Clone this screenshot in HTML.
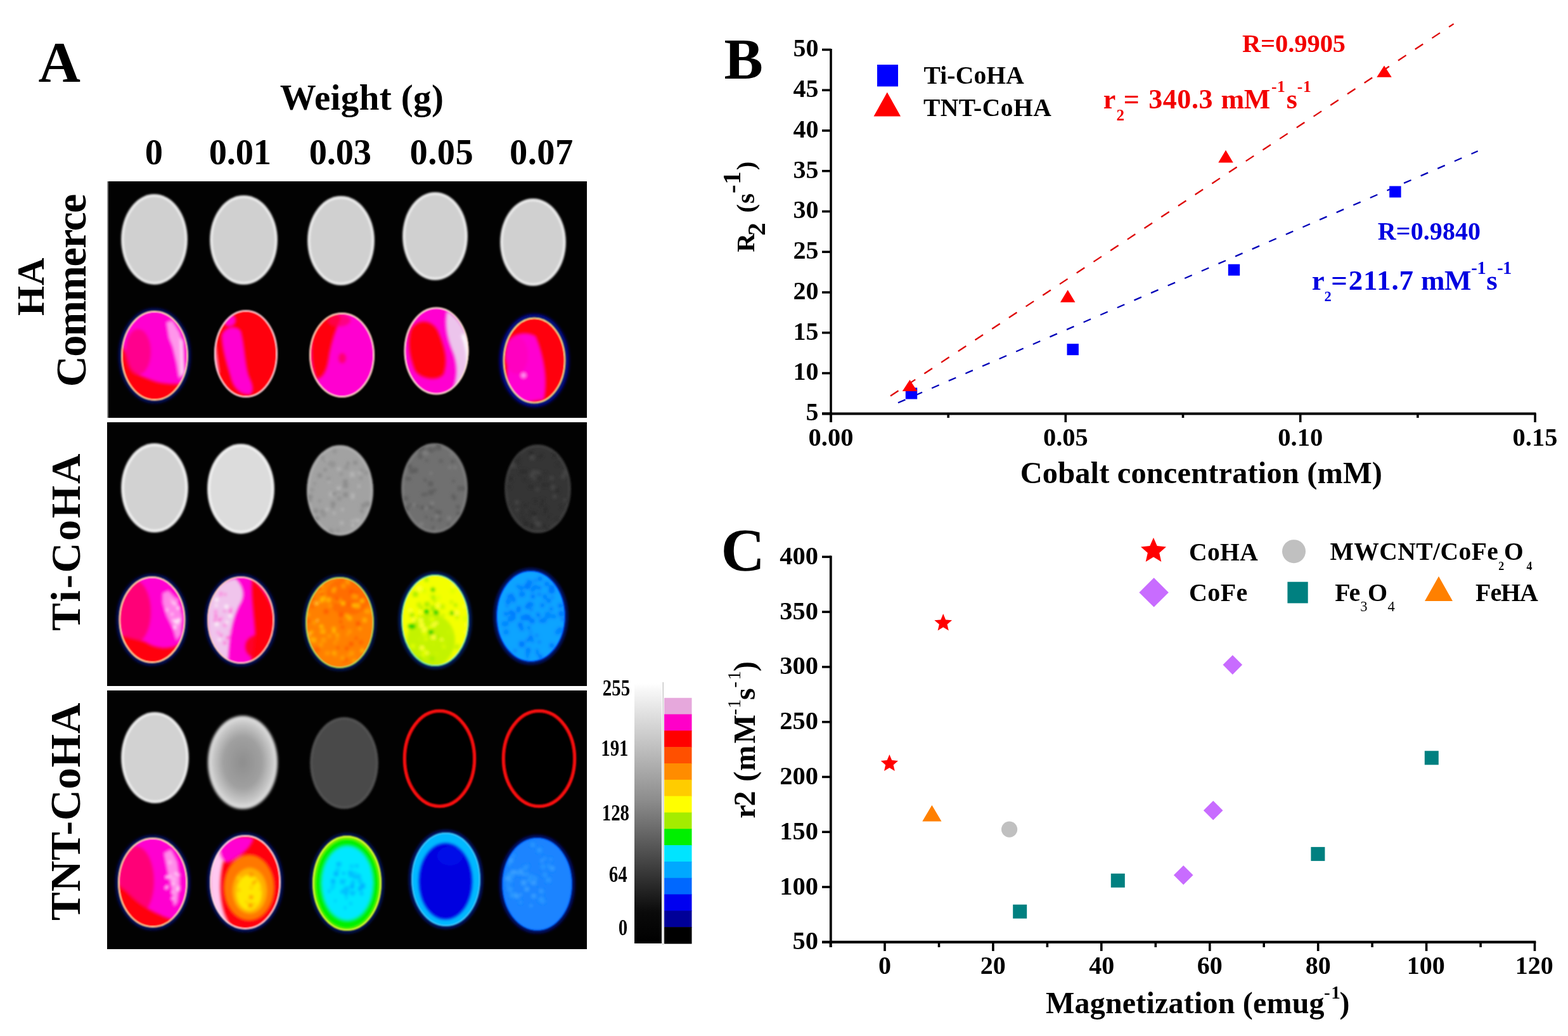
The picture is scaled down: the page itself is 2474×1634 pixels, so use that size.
<!DOCTYPE html>
<html><head><meta charset="utf-8"><title>Figure</title><style>html,body{margin:0;padding:0;background:#fff;overflow:hidden}svg{display:block}text{font-family:"Liberation Serif",serif;font-weight:bold}</style></head><body>
<svg width="2474" height="1634" viewBox="0 0 2474 1634">
<defs><filter id="blur2" x="-20%" y="-20%" width="140%" height="140%"><feGaussianBlur stdDeviation="2"/></filter>
<filter id="blur1" x="-20%" y="-20%" width="140%" height="140%"><feGaussianBlur stdDeviation="1.1"/></filter>
<filter id="blurG" x="-20%" y="-20%" width="140%" height="140%"><feGaussianBlur stdDeviation="1.6"/></filter>
<filter id="blurH" x="-30%" y="-30%" width="160%" height="160%"><feGaussianBlur stdDeviation="2.5"/></filter>
<filter id="blurI" x="-30%" y="-30%" width="160%" height="160%"><feGaussianBlur stdDeviation="2"/></filter>
<linearGradient id="gbar" x1="0" y1="0" x2="0" y2="1"><stop offset="0" stop-color="#ffffff"/><stop offset="0.03" stop-color="#f6f6f6"/><stop offset="0.45" stop-color="#8c8c8c"/><stop offset="0.88" stop-color="#0a0a0a"/><stop offset="1" stop-color="#000"/></linearGradient>
<radialGradient id="g32"><stop offset="0" stop-color="#8e8e8e"/><stop offset="0.55" stop-color="#a0a0a0"/><stop offset="0.85" stop-color="#c8c8c8"/><stop offset="1" stop-color="#e4e4e4"/></radialGradient>
<clipPath id="gs0"><ellipse cx="536.5" cy="773.5" rx="50.5" ry="69.5"/></clipPath>
<clipPath id="gs1"><ellipse cx="685.5" cy="770" rx="50.5" ry="69"/></clipPath>
<clipPath id="gs2"><ellipse cx="848.5" cy="771" rx="50.5" ry="68"/></clipPath>
<clipPath id="c1"><ellipse cx="244" cy="561" rx="53" ry="71"/></clipPath>
<clipPath id="c2"><ellipse cx="388" cy="558" rx="50" ry="69"/></clipPath>
<clipPath id="c3"><ellipse cx="539.5" cy="560" rx="51.5" ry="67"/></clipPath>
<clipPath id="c4"><ellipse cx="688.5" cy="553.5" rx="51" ry="69"/></clipPath>
<clipPath id="c5"><ellipse cx="843" cy="568.5" rx="49.5" ry="68"/></clipPath>
<clipPath id="c6"><ellipse cx="240" cy="977.5" rx="52.5" ry="68.5"/></clipPath>
<clipPath id="c7"><ellipse cx="380" cy="978" rx="53" ry="69"/></clipPath>
<clipPath id="c8"><ellipse cx="536" cy="982" rx="54" ry="72"/></clipPath>
<clipPath id="c9"><ellipse cx="686.5" cy="978.5" rx="53.5" ry="72.5"/></clipPath>
<clipPath id="c10"><ellipse cx="837.5" cy="972" rx="54.5" ry="72"/></clipPath>
<clipPath id="c11"><ellipse cx="241" cy="1392" rx="55" ry="71"/></clipPath>
<clipPath id="c12"><ellipse cx="387" cy="1391.5" rx="56" ry="74.5"/></clipPath>
<clipPath id="c13"><ellipse cx="547.5" cy="1393" rx="54.5" ry="75"/></clipPath>
<clipPath id="c14"><ellipse cx="703.5" cy="1387" rx="54.5" ry="74"/></clipPath>
<clipPath id="c15"><ellipse cx="847.5" cy="1394.5" rx="55.5" ry="73.5"/></clipPath></defs>
<rect x="0" y="0" width="2474" height="1634" fill="#fff"/>
<rect x="169" y="286" width="757" height="373" fill="#020202"/>
<rect x="169" y="286" width="2" height="373" fill="#8a8a8a"/>
<rect x="169" y="666" width="757" height="416" fill="#020202"/>
<rect x="169" y="1089" width="757" height="408" fill="#020202"/>
<g filter="url(#blurG)"><ellipse cx="243.5" cy="377.5" rx="52.5" ry="71.5" fill="#d0d0d0"/><ellipse cx="243.5" cy="377.5" rx="49.5" ry="68.5" fill="none" stroke="#eeeeee" stroke-width="3"/></g>
<g filter="url(#blurG)"><ellipse cx="384.5" cy="378.5" rx="53.5" ry="70.5" fill="#d0d0d0"/><ellipse cx="384.5" cy="378.5" rx="50.5" ry="67.5" fill="none" stroke="#eeeeee" stroke-width="3"/></g>
<g filter="url(#blurG)"><ellipse cx="538" cy="379.5" rx="53" ry="70.5" fill="#d0d0d0"/><ellipse cx="538" cy="379.5" rx="50.0" ry="67.5" fill="none" stroke="#eeeeee" stroke-width="3"/></g>
<g filter="url(#blurG)"><ellipse cx="686.5" cy="372.5" rx="51.5" ry="69.5" fill="#d0d0d0"/><ellipse cx="686.5" cy="372.5" rx="48.5" ry="66.5" fill="none" stroke="#eeeeee" stroke-width="3"/></g>
<g filter="url(#blurG)"><ellipse cx="841" cy="382" rx="52" ry="69" fill="#d0d0d0"/><ellipse cx="841" cy="382" rx="49.0" ry="66.0" fill="none" stroke="#eeeeee" stroke-width="3"/></g>
<g filter="url(#blurG)"><ellipse cx="244" cy="769.5" rx="53" ry="70.5" fill="#d2d2d2"/><ellipse cx="244" cy="769.5" rx="49.75" ry="67.25" fill="none" stroke="#f0f0f0" stroke-width="3.5"/></g>
<g filter="url(#blurG)"><ellipse cx="380" cy="771" rx="53" ry="71" fill="#dcdcdc"/><ellipse cx="380" cy="771" rx="49.75" ry="67.75" fill="none" stroke="#f0f0f0" stroke-width="3.5"/></g>
<g filter="url(#blurG)"><ellipse cx="536.5" cy="773.5" rx="52.5" ry="71.5" fill="#a2a2a2"/><ellipse cx="536.5" cy="773.5" rx="49.25" ry="68.25" fill="none" stroke="#acacac" stroke-width="3.5"/></g>
<g filter="url(#blurG)"><ellipse cx="685.5" cy="770" rx="52.5" ry="71" fill="#707070"/><ellipse cx="685.5" cy="770" rx="49.25" ry="67.75" fill="none" stroke="#7a7a7a" stroke-width="3.5"/></g>
<g filter="url(#blurG)"><ellipse cx="848.5" cy="771" rx="52.5" ry="70" fill="#353535"/><ellipse cx="848.5" cy="771" rx="49.25" ry="66.75" fill="none" stroke="#3c3c3c" stroke-width="3.5"/></g>
<g clip-path="url(#gs0)"><g filter="url(#blurI)"><rect x="523.0" y="797.5" width="4.6" height="4.6" fill="#8e8e8e" opacity="1.0"/><rect x="537.9" y="801.5" width="4.6" height="4.6" fill="#b4b4b4" opacity="1.0"/><rect x="505.2" y="803.7" width="6.1" height="6.1" fill="#8e8e8e" opacity="1.0"/><rect x="523.6" y="727.7" width="5.3" height="5.3" fill="#949494" opacity="1.0"/><rect x="543.2" y="733.8" width="6.9" height="6.9" fill="#949494" opacity="1.0"/><rect x="541.5" y="776.4" width="7.8" height="7.8" fill="#8e8e8e" opacity="1.0"/><rect x="517.7" y="727.5" width="7.3" height="7.3" fill="#949494" opacity="1.0"/><rect x="572.7" y="792.7" width="4.9" height="4.9" fill="#949494" opacity="1.0"/><rect x="557.3" y="726.4" width="6.6" height="6.6" fill="#8e8e8e" opacity="1.0"/><rect x="532.0" y="737.1" width="5.2" height="5.2" fill="#b4b4b4" opacity="1.0"/><rect x="521.9" y="790.8" width="7.3" height="7.3" fill="#8e8e8e" opacity="1.0"/><rect x="564.6" y="743.5" width="4.7" height="4.7" fill="#b4b4b4" opacity="1.0"/><rect x="512.9" y="724.8" width="4.1" height="4.1" fill="#b4b4b4" opacity="1.0"/><rect x="520.0" y="835.5" width="6.7" height="6.7" fill="#949494" opacity="1.0"/><rect x="575.6" y="790.9" width="8.0" height="8.0" fill="#8e8e8e" opacity="1.0"/><rect x="517.0" y="757.5" width="4.2" height="4.2" fill="#b4b4b4" opacity="1.0"/><rect x="501.0" y="746.5" width="6.9" height="6.9" fill="#8e8e8e" opacity="1.0"/><rect x="530.4" y="769.7" width="7.2" height="7.2" fill="#949494" opacity="1.0"/><rect x="531.8" y="782.8" width="7.4" height="7.4" fill="#949494" opacity="1.0"/><rect x="495.1" y="802.3" width="6.8" height="6.8" fill="#8e8e8e" opacity="1.0"/><rect x="506.8" y="807.5" width="7.9" height="7.9" fill="#949494" opacity="1.0"/><rect x="541.2" y="761.8" width="8.0" height="8.0" fill="#8e8e8e" opacity="1.0"/><rect x="486.8" y="787.4" width="4.8" height="4.8" fill="#8e8e8e" opacity="1.0"/><rect x="553.3" y="778.2" width="6.2" height="6.2" fill="#b4b4b4" opacity="1.0"/><rect x="536.3" y="822.1" width="5.6" height="5.6" fill="#b4b4b4" opacity="1.0"/><rect x="501.8" y="787.3" width="5.2" height="5.2" fill="#949494" opacity="1.0"/><rect x="515.2" y="752.1" width="6.1" height="6.1" fill="#949494" opacity="1.0"/><rect x="554.1" y="782.6" width="4.7" height="4.7" fill="#b4b4b4" opacity="1.0"/><rect x="494.2" y="760.5" width="4.6" height="4.6" fill="#949494" opacity="1.0"/><rect x="574.3" y="742.7" width="6.3" height="6.3" fill="#949494" opacity="1.0"/><rect x="559.1" y="818.2" width="4.1" height="4.1" fill="#b4b4b4" opacity="1.0"/><rect x="567.9" y="738.1" width="6.1" height="6.1" fill="#949494" opacity="1.0"/><rect x="566.7" y="751.2" width="5.6" height="5.6" fill="#949494" opacity="1.0"/><rect x="521.9" y="727.9" width="4.9" height="4.9" fill="#949494" opacity="1.0"/><rect x="553.9" y="826.1" width="5.8" height="5.8" fill="#b4b4b4" opacity="1.0"/><rect x="511.1" y="725.9" width="4.1" height="4.1" fill="#949494" opacity="1.0"/><rect x="496.5" y="813.9" width="7.3" height="7.3" fill="#8e8e8e" opacity="1.0"/><rect x="510.5" y="738.4" width="5.1" height="5.1" fill="#8e8e8e" opacity="1.0"/><rect x="541.3" y="756.1" width="7.1" height="7.1" fill="#8e8e8e" opacity="1.0"/><rect x="505.8" y="719.1" width="6.5" height="6.5" fill="#949494" opacity="1.0"/><rect x="569.8" y="794.4" width="6.8" height="6.8" fill="#8e8e8e" opacity="1.0"/><rect x="519.3" y="775.7" width="7.8" height="7.8" fill="#b4b4b4" opacity="1.0"/><rect x="530.7" y="833.8" width="5.0" height="5.0" fill="#949494" opacity="1.0"/><rect x="522.0" y="728.8" width="7.5" height="7.5" fill="#949494" opacity="1.0"/><rect x="485.2" y="779.7" width="7.8" height="7.8" fill="#8e8e8e" opacity="1.0"/><rect x="551.9" y="744.3" width="7.9" height="7.9" fill="#b4b4b4" opacity="1.0"/><rect x="524.1" y="776.1" width="5.8" height="5.8" fill="#8e8e8e" opacity="1.0"/><rect x="489.1" y="769.6" width="5.9" height="5.9" fill="#949494" opacity="1.0"/><rect x="531.0" y="767.0" width="6.7" height="6.7" fill="#b4b4b4" opacity="1.0"/><rect x="568.2" y="803.3" width="5.4" height="5.4" fill="#8e8e8e" opacity="1.0"/><rect x="518.9" y="833.1" width="5.6" height="5.6" fill="#949494" opacity="1.0"/><rect x="546.6" y="728.5" width="4.9" height="4.9" fill="#8e8e8e" opacity="1.0"/><rect x="553.8" y="819.9" width="4.2" height="4.2" fill="#b4b4b4" opacity="1.0"/><rect x="525.0" y="807.2" width="4.5" height="4.5" fill="#b4b4b4" opacity="1.0"/><rect x="535.8" y="745.1" width="5.0" height="5.0" fill="#949494" opacity="1.0"/><rect x="564.1" y="764.6" width="4.5" height="4.5" fill="#b4b4b4" opacity="1.0"/><rect x="513.8" y="801.0" width="4.8" height="4.8" fill="#b4b4b4" opacity="1.0"/><rect x="521.3" y="732.0" width="5.4" height="5.4" fill="#949494" opacity="1.0"/><rect x="562.2" y="818.1" width="6.4" height="6.4" fill="#b4b4b4" opacity="1.0"/><rect x="524.8" y="708.6" width="6.6" height="6.6" fill="#949494" opacity="1.0"/></g></g>
<g clip-path="url(#gs1)"><g filter="url(#blurI)"><rect x="661.8" y="823.8" width="6.0" height="6.0" fill="#808080" opacity="1.0"/><rect x="664.3" y="703.7" width="6.8" height="6.8" fill="#626262" opacity="1.0"/><rect x="710.3" y="714.9" width="4.0" height="4.0" fill="#808080" opacity="1.0"/><rect x="711.6" y="725.2" width="5.2" height="5.2" fill="#5e5e5e" opacity="1.0"/><rect x="677.8" y="744.4" width="4.1" height="4.1" fill="#808080" opacity="1.0"/><rect x="646.3" y="739.1" width="7.7" height="7.7" fill="#5e5e5e" opacity="1.0"/><rect x="686.5" y="811.8" width="5.2" height="5.2" fill="#808080" opacity="1.0"/><rect x="690.3" y="805.2" width="6.3" height="6.3" fill="#5e5e5e" opacity="1.0"/><rect x="660.0" y="706.8" width="6.7" height="6.7" fill="#626262" opacity="1.0"/><rect x="674.9" y="705.9" width="5.9" height="5.9" fill="#5e5e5e" opacity="1.0"/><rect x="677.6" y="796.5" width="4.4" height="4.4" fill="#5e5e5e" opacity="1.0"/><rect x="643.8" y="732.8" width="6.2" height="6.2" fill="#5e5e5e" opacity="1.0"/><rect x="671.3" y="724.4" width="4.1" height="4.1" fill="#5e5e5e" opacity="1.0"/><rect x="683.3" y="770.8" width="5.3" height="5.3" fill="#626262" opacity="1.0"/><rect x="680.9" y="830.8" width="7.5" height="7.5" fill="#808080" opacity="1.0"/><rect x="664.4" y="777.6" width="4.9" height="4.9" fill="#626262" opacity="1.0"/><rect x="670.1" y="799.3" width="4.8" height="4.8" fill="#808080" opacity="1.0"/><rect x="643.8" y="793.5" width="5.4" height="5.4" fill="#626262" opacity="1.0"/><rect x="645.5" y="732.2" width="4.0" height="4.0" fill="#5e5e5e" opacity="1.0"/><rect x="719.9" y="806.6" width="5.7" height="5.7" fill="#5e5e5e" opacity="1.0"/><rect x="678.3" y="708.2" width="5.3" height="5.3" fill="#5e5e5e" opacity="1.0"/><rect x="725.7" y="766.8" width="7.1" height="7.1" fill="#5e5e5e" opacity="1.0"/><rect x="711.9" y="779.0" width="5.9" height="5.9" fill="#626262" opacity="1.0"/><rect x="670.5" y="813.5" width="4.1" height="4.1" fill="#5e5e5e" opacity="1.0"/><rect x="692.7" y="724.1" width="6.1" height="6.1" fill="#626262" opacity="1.0"/><rect x="670.0" y="712.6" width="5.3" height="5.3" fill="#808080" opacity="1.0"/><rect x="675.6" y="759.2" width="7.6" height="7.6" fill="#5e5e5e" opacity="1.0"/><rect x="679.7" y="817.1" width="4.1" height="4.1" fill="#5e5e5e" opacity="1.0"/><rect x="721.8" y="766.5" width="7.9" height="7.9" fill="#626262" opacity="1.0"/><rect x="683.4" y="706.0" width="4.7" height="4.7" fill="#5e5e5e" opacity="1.0"/><rect x="663.4" y="797.5" width="6.0" height="6.0" fill="#5e5e5e" opacity="1.0"/><rect x="688.1" y="698.8" width="7.8" height="7.8" fill="#5e5e5e" opacity="1.0"/><rect x="638.3" y="798.0" width="7.7" height="7.7" fill="#626262" opacity="1.0"/><rect x="689.3" y="703.3" width="6.6" height="6.6" fill="#5e5e5e" opacity="1.0"/><rect x="676.2" y="795.3" width="7.5" height="7.5" fill="#626262" opacity="1.0"/><rect x="639.8" y="752.1" width="4.9" height="4.9" fill="#5e5e5e" opacity="1.0"/><rect x="715.9" y="734.9" width="4.6" height="4.6" fill="#808080" opacity="1.0"/><rect x="651.6" y="738.0" width="7.8" height="7.8" fill="#5e5e5e" opacity="1.0"/><rect x="685.9" y="803.9" width="5.8" height="5.8" fill="#626262" opacity="1.0"/><rect x="655.6" y="795.6" width="4.6" height="4.6" fill="#5e5e5e" opacity="1.0"/><rect x="713.4" y="756.6" width="4.3" height="4.3" fill="#5e5e5e" opacity="1.0"/><rect x="713.8" y="782.2" width="6.3" height="6.3" fill="#5e5e5e" opacity="1.0"/><rect x="659.8" y="715.1" width="5.5" height="5.5" fill="#626262" opacity="1.0"/><rect x="668.1" y="776.5" width="6.3" height="6.3" fill="#626262" opacity="1.0"/><rect x="705.4" y="825.0" width="4.6" height="4.6" fill="#626262" opacity="1.0"/><rect x="667.0" y="711.2" width="5.4" height="5.4" fill="#808080" opacity="1.0"/><rect x="651.6" y="794.0" width="4.4" height="4.4" fill="#808080" opacity="1.0"/><rect x="690.8" y="816.7" width="6.3" height="6.3" fill="#626262" opacity="1.0"/><rect x="636.9" y="782.3" width="7.4" height="7.4" fill="#626262" opacity="1.0"/><rect x="643.1" y="752.8" width="5.5" height="5.5" fill="#5e5e5e" opacity="1.0"/><rect x="638.7" y="783.9" width="5.4" height="5.4" fill="#626262" opacity="1.0"/><rect x="651.5" y="794.5" width="4.5" height="4.5" fill="#808080" opacity="1.0"/><rect x="719.6" y="796.7" width="5.6" height="5.6" fill="#5e5e5e" opacity="1.0"/><rect x="705.7" y="814.2" width="6.2" height="6.2" fill="#808080" opacity="1.0"/><rect x="675.9" y="772.6" width="8.0" height="8.0" fill="#5e5e5e" opacity="1.0"/><rect x="659.8" y="717.3" width="6.4" height="6.4" fill="#5e5e5e" opacity="1.0"/><rect x="707.6" y="734.8" width="4.5" height="4.5" fill="#808080" opacity="1.0"/><rect x="681.0" y="830.2" width="5.7" height="5.7" fill="#5e5e5e" opacity="1.0"/><rect x="668.4" y="755.1" width="4.4" height="4.4" fill="#5e5e5e" opacity="1.0"/><rect x="678.8" y="791.2" width="5.8" height="5.8" fill="#808080" opacity="1.0"/></g></g>
<g clip-path="url(#gs2)"><g filter="url(#blurI)"><rect x="852.3" y="785.9" width="7.3" height="7.3" fill="#2e2e2e" opacity="1.0"/><rect x="843.2" y="821.2" width="6.1" height="6.1" fill="#444444" opacity="1.0"/><rect x="812.3" y="789.0" width="6.5" height="6.5" fill="#444444" opacity="1.0"/><rect x="826.7" y="794.2" width="5.9" height="5.9" fill="#2e2e2e" opacity="1.0"/><rect x="892.5" y="787.4" width="5.2" height="5.2" fill="#2e2e2e" opacity="1.0"/><rect x="846.9" y="823.4" width="7.0" height="7.0" fill="#444444" opacity="1.0"/><rect x="864.5" y="812.6" width="5.1" height="5.1" fill="#2e2e2e" opacity="1.0"/><rect x="852.1" y="794.2" width="4.5" height="4.5" fill="#2a2a2a" opacity="1.0"/><rect x="825.5" y="821.3" width="8.0" height="8.0" fill="#2a2a2a" opacity="1.0"/><rect x="872.1" y="715.6" width="5.3" height="5.3" fill="#2a2a2a" opacity="1.0"/><rect x="847.1" y="743.1" width="5.4" height="5.4" fill="#444444" opacity="1.0"/><rect x="825.6" y="753.8" width="4.7" height="4.7" fill="#2a2a2a" opacity="1.0"/><rect x="885.1" y="748.8" width="6.5" height="6.5" fill="#444444" opacity="1.0"/><rect x="852.5" y="716.0" width="4.6" height="4.6" fill="#2a2a2a" opacity="1.0"/><rect x="835.3" y="746.0" width="7.5" height="7.5" fill="#444444" opacity="1.0"/><rect x="861.7" y="762.1" width="5.9" height="5.9" fill="#2e2e2e" opacity="1.0"/><rect x="854.2" y="760.9" width="7.4" height="7.4" fill="#2e2e2e" opacity="1.0"/><rect x="800.6" y="765.6" width="5.5" height="5.5" fill="#2e2e2e" opacity="1.0"/><rect x="838.8" y="741.4" width="7.6" height="7.6" fill="#444444" opacity="1.0"/><rect x="869.2" y="765.3" width="6.8" height="6.8" fill="#444444" opacity="1.0"/><rect x="835.4" y="763.9" width="6.5" height="6.5" fill="#2e2e2e" opacity="1.0"/><rect x="834.1" y="804.6" width="5.3" height="5.3" fill="#2e2e2e" opacity="1.0"/><rect x="888.2" y="741.9" width="7.8" height="7.8" fill="#444444" opacity="1.0"/><rect x="811.4" y="799.7" width="5.4" height="5.4" fill="#2e2e2e" opacity="1.0"/><rect x="837.7" y="810.5" width="7.7" height="7.7" fill="#2e2e2e" opacity="1.0"/><rect x="871.8" y="780.1" width="6.0" height="6.0" fill="#444444" opacity="1.0"/><rect x="859.2" y="799.5" width="4.9" height="4.9" fill="#2a2a2a" opacity="1.0"/><rect x="877.5" y="817.5" width="4.3" height="4.3" fill="#2a2a2a" opacity="1.0"/><rect x="813.0" y="723.5" width="7.8" height="7.8" fill="#2a2a2a" opacity="1.0"/><rect x="800.8" y="794.2" width="4.0" height="4.0" fill="#2e2e2e" opacity="1.0"/><rect x="835.8" y="825.7" width="7.3" height="7.3" fill="#2a2a2a" opacity="1.0"/><rect x="840.8" y="807.1" width="6.4" height="6.4" fill="#2a2a2a" opacity="1.0"/><rect x="876.9" y="730.7" width="4.5" height="4.5" fill="#2e2e2e" opacity="1.0"/><rect x="846.4" y="742.2" width="4.1" height="4.1" fill="#444444" opacity="1.0"/><rect x="858.7" y="744.5" width="4.5" height="4.5" fill="#2e2e2e" opacity="1.0"/><rect x="802.8" y="751.6" width="7.0" height="7.0" fill="#2e2e2e" opacity="1.0"/><rect x="815.1" y="716.8" width="4.4" height="4.4" fill="#2e2e2e" opacity="1.0"/><rect x="848.6" y="717.3" width="5.9" height="5.9" fill="#2e2e2e" opacity="1.0"/><rect x="841.8" y="788.0" width="4.9" height="4.9" fill="#2a2a2a" opacity="1.0"/><rect x="813.1" y="801.6" width="4.9" height="4.9" fill="#444444" opacity="1.0"/><rect x="840.6" y="752.1" width="5.1" height="5.1" fill="#444444" opacity="1.0"/><rect x="821.7" y="805.1" width="5.1" height="5.1" fill="#2e2e2e" opacity="1.0"/><rect x="861.1" y="832.2" width="5.3" height="5.3" fill="#2e2e2e" opacity="1.0"/><rect x="875.9" y="769.7" width="7.2" height="7.2" fill="#2e2e2e" opacity="1.0"/><rect x="857.0" y="802.6" width="7.4" height="7.4" fill="#2e2e2e" opacity="1.0"/><rect x="812.0" y="725.2" width="7.5" height="7.5" fill="#2e2e2e" opacity="1.0"/><rect x="883.5" y="797.6" width="5.1" height="5.1" fill="#2e2e2e" opacity="1.0"/><rect x="888.8" y="786.3" width="4.9" height="4.9" fill="#444444" opacity="1.0"/><rect x="867.3" y="751.1" width="5.8" height="5.8" fill="#444444" opacity="1.0"/><rect x="834.4" y="711.3" width="7.1" height="7.1" fill="#2a2a2a" opacity="1.0"/><rect x="823.2" y="814.3" width="4.4" height="4.4" fill="#2a2a2a" opacity="1.0"/><rect x="833.9" y="765.4" width="4.7" height="4.7" fill="#2e2e2e" opacity="1.0"/><rect x="806.2" y="730.5" width="7.2" height="7.2" fill="#444444" opacity="1.0"/><rect x="835.7" y="717.7" width="7.7" height="7.7" fill="#444444" opacity="1.0"/><rect x="848.6" y="751.4" width="6.3" height="6.3" fill="#2e2e2e" opacity="1.0"/><rect x="845.2" y="769.3" width="5.2" height="5.2" fill="#444444" opacity="1.0"/><rect x="855.3" y="826.4" width="6.7" height="6.7" fill="#2e2e2e" opacity="1.0"/><rect x="818.9" y="739.9" width="7.4" height="7.4" fill="#2e2e2e" opacity="1.0"/><rect x="825.1" y="740.1" width="6.9" height="6.9" fill="#2e2e2e" opacity="1.0"/><rect x="840.8" y="813.8" width="5.0" height="5.0" fill="#444444" opacity="1.0"/></g></g>
<g filter="url(#blurG)"><ellipse cx="244.5" cy="1195" rx="53.5" ry="72" fill="#d2d2d2"/><ellipse cx="244.5" cy="1195" rx="50.5" ry="69.0" fill="none" stroke="#f0f0f0" stroke-width="3"/></g>
<g filter="url(#blur2)"><ellipse cx="383" cy="1202.5" rx="55" ry="73.5" fill="url(#g32)"/></g>
<g filter="url(#blurG)"><ellipse cx="543" cy="1203.5" rx="54" ry="72.5" fill="#4a4a4a"/><ellipse cx="543" cy="1203.5" rx="51.0" ry="69.5" fill="none" stroke="#525252" stroke-width="3"/></g>
<g filter="url(#blur1)"><ellipse cx="693.5" cy="1196.5" rx="55.5" ry="75.5" fill="#050505" stroke="#ff1010" stroke-width="4.5"/><ellipse cx="850.5" cy="1196.5" rx="56.5" ry="75.5" fill="#050505" stroke="#ff1010" stroke-width="4.5"/></g>
<ellipse cx="244" cy="561" rx="54.5" ry="72.5" fill="none" stroke="#0018a0" stroke-width="3" filter="url(#blurH)"/><g filter="url(#blur1)"><g clip-path="url(#c1)"><ellipse cx="244" cy="561" rx="53" ry="71" fill="#ff00d0"/><g filter="url(#blurI)"><path d="M188 540 C194 545 200 560 204 575 C208 585 215 590 225 594 C240 600 255 610 300 604 L300 640 L185 640 Z" fill="#ff0008" /><ellipse cx="218" cy="555" rx="20" ry="36" fill="#ff0070" opacity="0.7"/><path d="M262 508 l10 -3 l12 20 l6 30 l-2 35 l-6 8 l-4 -25 l-6 -25 l-6 -15z" fill="#ffb0f0" opacity="0.85"/><path d="M284 530 l5 8 l2 50 l-5 8z" fill="#ffe0f8" /></g></g><ellipse cx="244" cy="561" rx="52.0" ry="70.0" fill="none" stroke="#ffe8b0" stroke-width="2"/></g>
<g filter="url(#blur1)"><g clip-path="url(#c2)"><ellipse cx="388" cy="558" rx="50" ry="69" fill="#ff0008"/><g filter="url(#blurI)"><path d="M350 528 C356 515 372 512 380 522 C386 545 386 570 392 592 C398 605 402 615 395 622 C380 624 368 612 364 595 C358 575 350 550 350 528z" fill="#ff00d0" /><ellipse cx="362" cy="505" rx="10" ry="10" fill="#ff00d0" /><path d="M338 520 q3 40 8 70 l-5 -3 q-6 -30 -5 -60z" fill="#ffb0f0" /></g></g><ellipse cx="388" cy="558" rx="49.0" ry="68.0" fill="none" stroke="#ffd8e0" stroke-width="2"/></g>
<g filter="url(#blur1)"><g clip-path="url(#c3)"><ellipse cx="539.5" cy="560" rx="51.5" ry="67" fill="#ff00d0"/><g filter="url(#blurI)"><path d="M498 505 C510 490 535 492 538 502 C530 518 522 540 518 568 C515 585 510 595 500 598 C490 580 488 540 498 505 Z" fill="#ff0008" /><ellipse cx="535" cy="505" rx="18" ry="10" fill="#ff0060" opacity="0.7"/><ellipse cx="540" cy="565" rx="6" ry="8" fill="#ff0070" /></g></g><ellipse cx="539.5" cy="560" rx="50.5" ry="66.0" fill="none" stroke="#ffe0c0" stroke-width="2"/></g>
<g filter="url(#blur1)"><g clip-path="url(#c4)"><ellipse cx="688.5" cy="553.5" rx="51" ry="69" fill="#ff00d0"/><g filter="url(#blurI)"><path d="M648 520 C660 500 685 505 692 525 C700 545 708 565 700 590 C690 602 665 598 655 585 C645 560 643 540 648 520 Z" fill="#ff0008" /><path d="M705 490 C728 502 742 530 742 560 C742 592 728 615 710 624 C722 600 722 580 716 560 C708 540 700 520 705 490 Z" fill="#ecc4ec" /><path d="M728 530 C738 550 740 585 730 612 l6 -2 C744 585 743 548 733 525z" fill="#ffffff" /></g></g><ellipse cx="688.5" cy="553.5" rx="50.0" ry="68.0" fill="none" stroke="#ffe8d0" stroke-width="2"/></g>
<ellipse cx="843" cy="568.5" rx="52.0" ry="70.5" fill="none" stroke="#0008b0" stroke-width="5" filter="url(#blurH)"/><g filter="url(#blur1)"><g clip-path="url(#c5)"><ellipse cx="843" cy="568.5" rx="49.5" ry="68" fill="#ff0008"/><g filter="url(#blurI)"><path d="M800 540 C810 525 830 522 845 530 C858 560 865 600 858 630 L800 640 Z" fill="#ff00d0" /><ellipse cx="815" cy="560" rx="18" ry="30" fill="#ff00c0" /><ellipse cx="826" cy="592" rx="3" ry="3" fill="#ffb0ff" /></g></g><ellipse cx="843" cy="568.5" rx="48.5" ry="67.0" fill="none" stroke="#e8f0a0" stroke-width="2"/></g>
<ellipse cx="240" cy="977.5" rx="54.0" ry="70.0" fill="none" stroke="#0018a0" stroke-width="3" filter="url(#blurH)"/><g filter="url(#blur1)"><g clip-path="url(#c6)"><ellipse cx="240" cy="977.5" rx="52.5" ry="68.5" fill="#ff00d0"/><g filter="url(#blurI)"><ellipse cx="212" cy="965" rx="26" ry="50" fill="#ff0060" opacity="0.8"/><path d="M186 1000 C200 1005 215 1008 228 1012 C240 1020 255 1025 275 1020 C285 1015 292 1010 294 1005 L294 1050 L186 1050z" fill="#ff0008" /><path d="M256 935 l10 -4 l14 15 l8 25 l-2 30 l-8 10 l-6 -20 l-10 -20 l-6 -20z" fill="#ffb0f0" opacity="0.75"/><rect x="267.5" y="944.5" width="3.3" height="3.3" fill="#ffd0f8" opacity="1.0"/><rect x="271.8" y="976.3" width="4.1" height="4.1" fill="#ffd0f8" opacity="1.0"/><rect x="278.9" y="981.9" width="3.0" height="3.0" fill="#ffffff" opacity="1.0"/><rect x="273.9" y="986.8" width="3.9" height="3.9" fill="#ffffff" opacity="1.0"/><rect x="265.5" y="945.8" width="4.4" height="4.4" fill="#ff80e0" opacity="1.0"/><rect x="278.0" y="942.9" width="4.5" height="4.5" fill="#ff80e0" opacity="1.0"/><rect x="269.9" y="967.3" width="3.0" height="3.0" fill="#ffffff" opacity="1.0"/><rect x="279.4" y="975.7" width="5.0" height="5.0" fill="#ffffff" opacity="1.0"/><rect x="264.9" y="944.2" width="3.1" height="3.1" fill="#ff80e0" opacity="1.0"/><rect x="278.7" y="949.5" width="3.3" height="3.3" fill="#ff80e0" opacity="1.0"/><rect x="274.0" y="988.4" width="3.5" height="3.5" fill="#ffffff" opacity="1.0"/><rect x="261.0" y="959.9" width="4.5" height="4.5" fill="#ffd0f8" opacity="1.0"/><rect x="271.2" y="948.1" width="3.1" height="3.1" fill="#ffffff" opacity="1.0"/><rect x="274.1" y="950.9" width="3.3" height="3.3" fill="#ffffff" opacity="1.0"/><rect x="275.0" y="978.2" width="4.4" height="4.4" fill="#ffffff" opacity="1.0"/><rect x="279.3" y="956.7" width="4.4" height="4.4" fill="#ffffff" opacity="1.0"/></g></g><ellipse cx="240" cy="977.5" rx="51.5" ry="67.5" fill="none" stroke="#ffe8b0" stroke-width="2"/></g>
<ellipse cx="380" cy="978" rx="54.5" ry="70.5" fill="none" stroke="#0018a0" stroke-width="3" filter="url(#blurH)"/><g filter="url(#blur1)"><g clip-path="url(#c7)"><ellipse cx="380" cy="978" rx="53" ry="69" fill="#ff00d0"/><g filter="url(#blurI)"><path d="M327 960 C330 935 345 915 372 912 C385 925 388 940 378 955 C368 975 362 1000 360 1045 L340 1045 C330 1020 326 990 327 960z" fill="#f0c4ec" /><rect x="338.4" y="969.5" width="4.3" height="4.3" fill="#ff40d0" opacity="1.0"/><rect x="349.0" y="973.3" width="3.0" height="3.0" fill="#ff80e0" opacity="1.0"/><rect x="352.0" y="983.8" width="4.9" height="4.9" fill="#ff80e0" opacity="1.0"/><rect x="347.0" y="933.6" width="3.2" height="3.2" fill="#ff40d0" opacity="1.0"/><rect x="346.0" y="936.6" width="4.0" height="4.0" fill="#ff80e0" opacity="1.0"/><rect x="337.6" y="962.3" width="5.0" height="5.0" fill="#ff80e0" opacity="1.0"/><rect x="352.9" y="962.4" width="3.1" height="3.1" fill="#ff40d0" opacity="1.0"/><rect x="339.7" y="953.2" width="3.2" height="3.2" fill="#ffffff" opacity="1.0"/><rect x="352.5" y="1011.8" width="4.4" height="4.4" fill="#ff40d0" opacity="1.0"/><rect x="360.9" y="969.0" width="4.3" height="4.3" fill="#ffffff" opacity="1.0"/><rect x="344.4" y="975.4" width="4.4" height="4.4" fill="#ff40d0" opacity="1.0"/><rect x="344.5" y="1007.1" width="3.5" height="3.5" fill="#ffffff" opacity="1.0"/><rect x="339.5" y="981.9" width="4.9" height="4.9" fill="#ffffff" opacity="1.0"/><rect x="354.8" y="954.3" width="4.8" height="4.8" fill="#ffffff" opacity="1.0"/><rect x="353.6" y="935.9" width="3.3" height="3.3" fill="#ff40d0" opacity="1.0"/><rect x="361.9" y="993.7" width="4.1" height="4.1" fill="#ff80e0" opacity="1.0"/><rect x="337.5" y="976.2" width="3.9" height="3.9" fill="#ff40d0" opacity="1.0"/><rect x="359.7" y="1002.9" width="3.3" height="3.3" fill="#ff40d0" opacity="1.0"/><rect x="362.1" y="958.2" width="4.4" height="4.4" fill="#ff80e0" opacity="1.0"/><rect x="342.3" y="995.9" width="3.9" height="3.9" fill="#ff80e0" opacity="1.0"/><rect x="361.2" y="962.5" width="4.4" height="4.4" fill="#ff40d0" opacity="1.0"/><rect x="356.8" y="1004.1" width="4.3" height="4.3" fill="#ff40d0" opacity="1.0"/><rect x="356.2" y="980.0" width="3.5" height="3.5" fill="#ffffff" opacity="1.0"/><rect x="347.2" y="1000.1" width="3.8" height="3.8" fill="#ff40d0" opacity="1.0"/><rect x="339.6" y="943.7" width="4.7" height="4.7" fill="#ffffff" opacity="1.0"/><path d="M398 912 C415 930 432 950 434 980 C434 1010 425 1035 405 1048 L395 1048 C400 1030 404 1010 402 990 C400 960 396 940 398 912z" fill="#ff0008" /><ellipse cx="405" cy="1020" rx="18" ry="18" fill="#ff0008" opacity="0.8"/></g></g><ellipse cx="380" cy="978" rx="52.0" ry="68.0" fill="none" stroke="#ffd0c0" stroke-width="2"/></g>
<ellipse cx="536" cy="982" rx="55.5" ry="73.5" fill="none" stroke="#002090" stroke-width="3" filter="url(#blurH)"/><g filter="url(#blur1)"><g clip-path="url(#c8)"><ellipse cx="536" cy="982" rx="54" ry="72" fill="#ff8000"/><g filter="url(#blurI)"><ellipse cx="550" cy="940" rx="35" ry="30" fill="#ff6000" opacity="0.6"/><rect x="505.0" y="985.6" width="5.5" height="5.5" fill="#ffb000" opacity="1.0"/><rect x="547.6" y="917.4" width="4.1" height="4.1" fill="#ffb000" opacity="1.0"/><rect x="506.0" y="939.8" width="8.0" height="8.0" fill="#ffb000" opacity="1.0"/><rect x="537.6" y="986.4" width="5.6" height="5.6" fill="#ff6400" opacity="1.0"/><rect x="503.2" y="928.0" width="7.7" height="7.7" fill="#ffb000" opacity="1.0"/><rect x="559.9" y="1004.6" width="4.3" height="4.3" fill="#ff5a00" opacity="1.0"/><rect x="572.0" y="974.6" width="6.9" height="6.9" fill="#ffb000" opacity="1.0"/><rect x="556.3" y="1039.8" width="5.6" height="5.6" fill="#ffb000" opacity="1.0"/><rect x="532.1" y="943.8" width="6.7" height="6.7" fill="#ff9a00" opacity="1.0"/><rect x="524.3" y="1026.9" width="6.3" height="6.3" fill="#ffb000" opacity="1.0"/><rect x="541.7" y="1036.8" width="6.7" height="6.7" fill="#ff5a00" opacity="1.0"/><rect x="550.8" y="929.8" width="7.4" height="7.4" fill="#ff5a00" opacity="1.0"/><rect x="555.4" y="936.7" width="7.3" height="7.3" fill="#ff9a00" opacity="1.0"/><rect x="523.7" y="929.1" width="5.2" height="5.2" fill="#ffb000" opacity="1.0"/><rect x="544.9" y="913.0" width="6.9" height="6.9" fill="#ff9a00" opacity="1.0"/><rect x="538.9" y="1040.2" width="5.1" height="5.1" fill="#ff6400" opacity="1.0"/><rect x="488.3" y="994.3" width="4.1" height="4.1" fill="#ff6400" opacity="1.0"/><rect x="506.5" y="1005.4" width="7.9" height="7.9" fill="#ff9a00" opacity="1.0"/><rect x="575.9" y="961.5" width="5.8" height="5.8" fill="#ffb000" opacity="1.0"/><rect x="548.4" y="992.7" width="6.2" height="6.2" fill="#ff9a00" opacity="1.0"/><rect x="526.1" y="1011.2" width="5.0" height="5.0" fill="#ff9a00" opacity="1.0"/><rect x="526.6" y="944.6" width="5.2" height="5.2" fill="#ff9a00" opacity="1.0"/><rect x="546.4" y="998.9" width="4.2" height="4.2" fill="#ff9a00" opacity="1.0"/><rect x="529.6" y="1005.1" width="5.4" height="5.4" fill="#ff9a00" opacity="1.0"/><rect x="484.6" y="1003.4" width="7.9" height="7.9" fill="#ff9a00" opacity="1.0"/><rect x="546.6" y="949.8" width="6.4" height="6.4" fill="#ff6400" opacity="1.0"/><rect x="518.6" y="952.3" width="5.5" height="5.5" fill="#ff9a00" opacity="1.0"/><rect x="510.9" y="960.8" width="7.1" height="7.1" fill="#ff5a00" opacity="1.0"/><rect x="492.9" y="978.7" width="6.6" height="6.6" fill="#ff9a00" opacity="1.0"/><rect x="504.9" y="934.1" width="5.7" height="5.7" fill="#ff5a00" opacity="1.0"/><rect x="490.3" y="953.7" width="5.3" height="5.3" fill="#ff6400" opacity="1.0"/><rect x="527.0" y="1030.9" width="4.7" height="4.7" fill="#ff9a00" opacity="1.0"/><rect x="559.0" y="938.3" width="6.3" height="6.3" fill="#ff9a00" opacity="1.0"/><rect x="503.2" y="924.4" width="6.1" height="6.1" fill="#ff6400" opacity="1.0"/><rect x="512.9" y="1027.3" width="6.3" height="6.3" fill="#ff9a00" opacity="1.0"/><rect x="516.6" y="1027.1" width="4.3" height="4.3" fill="#ff9a00" opacity="1.0"/><rect x="542.6" y="967.6" width="6.1" height="6.1" fill="#ff9a00" opacity="1.0"/><rect x="529.6" y="998.7" width="5.2" height="5.2" fill="#ffb000" opacity="1.0"/><rect x="483.4" y="967.1" width="4.8" height="4.8" fill="#ffb000" opacity="1.0"/><rect x="502.3" y="1013.7" width="7.3" height="7.3" fill="#ff9a00" opacity="1.0"/><rect x="537.0" y="1034.4" width="7.4" height="7.4" fill="#ff9a00" opacity="1.0"/><rect x="492.9" y="943.1" width="4.1" height="4.1" fill="#ff6400" opacity="1.0"/><rect x="559.9" y="932.1" width="5.2" height="5.2" fill="#ff5a00" opacity="1.0"/><rect x="534.8" y="965.7" width="7.8" height="7.8" fill="#ff5a00" opacity="1.0"/><rect x="515.1" y="942.6" width="7.4" height="7.4" fill="#ffb000" opacity="1.0"/><rect x="502.1" y="923.8" width="7.6" height="7.6" fill="#ff5a00" opacity="1.0"/><rect x="496.7" y="1020.2" width="7.7" height="7.7" fill="#ff6400" opacity="1.0"/><rect x="547.8" y="1032.1" width="4.2" height="4.2" fill="#ff9a00" opacity="1.0"/><rect x="505.8" y="996.0" width="6.1" height="6.1" fill="#ff5a00" opacity="1.0"/><rect x="531.1" y="1019.8" width="4.0" height="4.0" fill="#ff5a00" opacity="1.0"/><rect x="485.3" y="977.5" width="4.1" height="4.1" fill="#ff5a00" opacity="1.0"/><rect x="535.3" y="978.2" width="4.6" height="4.6" fill="#ff5a00" opacity="1.0"/><rect x="516.8" y="1000.0" width="6.3" height="6.3" fill="#ff9a00" opacity="1.0"/><rect x="526.3" y="926.4" width="4.0" height="4.0" fill="#ffb000" opacity="1.0"/><rect x="565.8" y="989.5" width="4.2" height="4.2" fill="#ffb000" opacity="1.0"/><rect x="544.5" y="1019.9" width="5.5" height="5.5" fill="#ff5a00" opacity="1.0"/><rect x="546.5" y="969.4" width="5.5" height="5.5" fill="#ffb000" opacity="1.0"/><rect x="560.2" y="951.5" width="7.8" height="7.8" fill="#ffb000" opacity="1.0"/><rect x="528.7" y="942.2" width="6.1" height="6.1" fill="#ff5a00" opacity="1.0"/><rect x="566.5" y="940.1" width="4.5" height="4.5" fill="#ff5a00" opacity="1.0"/><rect x="579.3" y="960.1" width="7.6" height="7.6" fill="#ff9a00" opacity="1.0"/><rect x="491.2" y="1005.6" width="7.8" height="7.8" fill="#ffb000" opacity="1.0"/><rect x="551.0" y="1012.5" width="6.3" height="6.3" fill="#ff5a00" opacity="1.0"/><rect x="566.7" y="1010.2" width="5.9" height="5.9" fill="#ff6400" opacity="1.0"/><rect x="550.8" y="1026.5" width="7.8" height="7.8" fill="#ff9a00" opacity="1.0"/><rect x="561.5" y="980.2" width="6.9" height="6.9" fill="#ff5a00" opacity="1.0"/><rect x="538.8" y="921.3" width="6.2" height="6.2" fill="#ff9a00" opacity="1.0"/><rect x="548.4" y="972.0" width="6.8" height="6.8" fill="#ffb000" opacity="1.0"/><rect x="505.4" y="992.4" width="7.8" height="7.8" fill="#ffb000" opacity="1.0"/><rect x="523.7" y="988.7" width="6.3" height="6.3" fill="#ffb000" opacity="1.0"/><rect x="505.6" y="923.0" width="3.8" height="3.8" fill="#ffd000" opacity="1.0"/><rect x="538.8" y="949.2" width="5.0" height="5.0" fill="#ffd000" opacity="1.0"/><rect x="504.2" y="985.5" width="3.6" height="3.6" fill="#ffd000" opacity="1.0"/><rect x="568.9" y="945.2" width="4.9" height="4.9" fill="#ffd000" opacity="1.0"/><rect x="569.2" y="1023.9" width="4.6" height="4.6" fill="#ffd000" opacity="1.0"/><rect x="497.4" y="949.3" width="4.7" height="4.7" fill="#ffe040" opacity="1.0"/><rect x="489.2" y="995.1" width="4.3" height="4.3" fill="#ffd000" opacity="1.0"/><rect x="499.6" y="976.6" width="3.2" height="3.2" fill="#ffe040" opacity="1.0"/><rect x="555.9" y="952.6" width="4.5" height="4.5" fill="#ffd000" opacity="1.0"/><rect x="524.8" y="994.3" width="3.9" height="3.9" fill="#ffd000" opacity="1.0"/><rect x="504.9" y="945.1" width="4.6" height="4.6" fill="#ffd000" opacity="1.0"/><rect x="485.2" y="998.4" width="3.6" height="3.6" fill="#ffe040" opacity="1.0"/></g></g><ellipse cx="536" cy="982" rx="53.0" ry="71.0" fill="none" stroke="#a0e060" stroke-width="2"/></g>
<ellipse cx="686.5" cy="978.5" rx="55.0" ry="74.0" fill="none" stroke="#0030b0" stroke-width="3" filter="url(#blurH)"/><g filter="url(#blur1)"><g clip-path="url(#c9)"><ellipse cx="686.5" cy="978.5" rx="53.5" ry="72.5" fill="#f4ff00"/><g filter="url(#blurI)"><ellipse cx="680" cy="1010" rx="38" ry="42" fill="#b8f000" opacity="0.8"/><rect x="696.1" y="1010.0" width="7.2" height="7.2" fill="#c8f400" opacity="1.0"/><rect x="720.4" y="1016.0" width="5.0" height="5.0" fill="#c8f400" opacity="1.0"/><rect x="680.1" y="938.7" width="6.2" height="6.2" fill="#a8ee00" opacity="1.0"/><rect x="659.4" y="1035.3" width="7.1" height="7.1" fill="#a8ee00" opacity="1.0"/><rect x="696.9" y="968.2" width="4.5" height="4.5" fill="#c8f400" opacity="1.0"/><rect x="651.4" y="933.3" width="7.9" height="7.9" fill="#a8ee00" opacity="1.0"/><rect x="688.3" y="1001.9" width="4.8" height="4.8" fill="#a8ee00" opacity="1.0"/><rect x="662.6" y="956.0" width="4.7" height="4.7" fill="#a8ee00" opacity="1.0"/><rect x="657.6" y="950.5" width="7.3" height="7.3" fill="#c8f400" opacity="1.0"/><rect x="694.6" y="1006.5" width="4.3" height="4.3" fill="#ffff30" opacity="1.0"/><rect x="717.9" y="973.1" width="5.3" height="5.3" fill="#e0ff00" opacity="1.0"/><rect x="681.0" y="929.0" width="5.0" height="5.0" fill="#c8f400" opacity="1.0"/><rect x="731.8" y="955.0" width="5.6" height="5.6" fill="#e0ff00" opacity="1.0"/><rect x="670.2" y="987.9" width="4.0" height="4.0" fill="#c8f400" opacity="1.0"/><rect x="704.8" y="992.5" width="7.8" height="7.8" fill="#c8f400" opacity="1.0"/><rect x="731.1" y="953.2" width="5.4" height="5.4" fill="#ffff30" opacity="1.0"/><rect x="712.5" y="918.2" width="7.0" height="7.0" fill="#ffff30" opacity="1.0"/><rect x="665.6" y="990.7" width="7.7" height="7.7" fill="#ffff30" opacity="1.0"/><rect x="660.3" y="1005.7" width="4.4" height="4.4" fill="#ffff30" opacity="1.0"/><rect x="662.5" y="1018.6" width="6.5" height="6.5" fill="#ffff30" opacity="1.0"/><rect x="687.6" y="962.4" width="4.9" height="4.9" fill="#ffff30" opacity="1.0"/><rect x="718.6" y="969.2" width="5.7" height="5.7" fill="#c8f400" opacity="1.0"/><rect x="716.4" y="952.0" width="4.8" height="4.8" fill="#a8ee00" opacity="1.0"/><rect x="698.2" y="1018.0" width="4.4" height="4.4" fill="#e0ff00" opacity="1.0"/><rect x="670.1" y="911.7" width="5.7" height="5.7" fill="#a8ee00" opacity="1.0"/><rect x="678.1" y="973.3" width="6.9" height="6.9" fill="#e0ff00" opacity="1.0"/><rect x="658.5" y="970.4" width="7.6" height="7.6" fill="#c8f400" opacity="1.0"/><rect x="732.7" y="993.9" width="6.0" height="6.0" fill="#ffff30" opacity="1.0"/><rect x="649.2" y="974.3" width="6.1" height="6.1" fill="#ffff30" opacity="1.0"/><rect x="669.0" y="989.1" width="4.1" height="4.1" fill="#ffff30" opacity="1.0"/><rect x="669.3" y="1005.6" width="5.1" height="5.1" fill="#e0ff00" opacity="1.0"/><rect x="665.7" y="928.2" width="7.4" height="7.4" fill="#e0ff00" opacity="1.0"/><rect x="688.2" y="939.0" width="6.7" height="6.7" fill="#e0ff00" opacity="1.0"/><rect x="660.6" y="975.2" width="6.7" height="6.7" fill="#ffff30" opacity="1.0"/><rect x="666.7" y="995.9" width="7.0" height="7.0" fill="#e0ff00" opacity="1.0"/><rect x="666.7" y="1024.5" width="7.5" height="7.5" fill="#e0ff00" opacity="1.0"/><rect x="686.1" y="980.4" width="4.7" height="4.7" fill="#ffff30" opacity="1.0"/><rect x="729.9" y="971.8" width="6.8" height="6.8" fill="#e0ff00" opacity="1.0"/><rect x="648.2" y="1016.0" width="6.3" height="6.3" fill="#e0ff00" opacity="1.0"/><rect x="661.7" y="982.5" width="7.5" height="7.5" fill="#ffff30" opacity="1.0"/><rect x="646.8" y="966.7" width="6.6" height="6.6" fill="#a8ee00" opacity="1.0"/><rect x="710.8" y="928.7" width="6.9" height="6.9" fill="#e0ff00" opacity="1.0"/><rect x="733.5" y="972.9" width="6.2" height="6.2" fill="#e0ff00" opacity="1.0"/><rect x="679.6" y="957.9" width="6.4" height="6.4" fill="#a8ee00" opacity="1.0"/><rect x="660.6" y="963.2" width="4.5" height="4.5" fill="#ffff30" opacity="1.0"/><rect x="733.6" y="983.1" width="5.2" height="5.2" fill="#ffff30" opacity="1.0"/><rect x="688.2" y="952.0" width="6.3" height="6.3" fill="#ffff30" opacity="1.0"/><rect x="717.0" y="963.1" width="7.3" height="7.3" fill="#ffff30" opacity="1.0"/><rect x="680.3" y="926.0" width="5.5" height="5.5" fill="#e0ff00" opacity="1.0"/><rect x="694.3" y="953.1" width="7.6" height="7.6" fill="#c8f400" opacity="1.0"/><rect x="670.0" y="949.4" width="7.7" height="7.7" fill="#a8ee00" opacity="1.0"/><rect x="664.7" y="1030.0" width="6.3" height="6.3" fill="#e0ff00" opacity="1.0"/><rect x="676.6" y="936.2" width="5.2" height="5.2" fill="#e0ff00" opacity="1.0"/><rect x="671.8" y="1027.7" width="4.6" height="4.6" fill="#ffff30" opacity="1.0"/><rect x="709.8" y="947.1" width="5.0" height="5.0" fill="#c8f400" opacity="1.0"/><rect x="682.7" y="944.6" width="5.9" height="5.9" fill="#c8f400" opacity="1.0"/><rect x="644.6" y="959.9" width="5.9" height="5.9" fill="#ffff30" opacity="1.0"/><rect x="657.0" y="972.7" width="4.1" height="4.1" fill="#e0ff00" opacity="1.0"/><rect x="657.7" y="924.5" width="8.0" height="8.0" fill="#ffff30" opacity="1.0"/><rect x="684.7" y="1027.4" width="7.5" height="7.5" fill="#c8f400" opacity="1.0"/><rect x="660.0" y="1005.4" width="6.5" height="6.5" fill="#c8f400" opacity="1.0"/><rect x="679.2" y="954.9" width="7.0" height="7.0" fill="#a8ee00" opacity="1.0"/><rect x="678.0" y="1035.1" width="7.6" height="7.6" fill="#a8ee00" opacity="1.0"/><rect x="675.4" y="986.1" width="6.8" height="6.8" fill="#e0ff00" opacity="1.0"/><rect x="680.5" y="1001.5" width="6.9" height="6.9" fill="#ffff30" opacity="1.0"/><rect x="680.2" y="1013.3" width="5.2" height="5.2" fill="#c8f400" opacity="1.0"/><rect x="704.8" y="966.2" width="5.1" height="5.1" fill="#e0ff00" opacity="1.0"/><rect x="681.2" y="982.6" width="6.0" height="6.0" fill="#ffff30" opacity="1.0"/><rect x="687.5" y="964.6" width="6.2" height="6.2" fill="#c8f400" opacity="1.0"/><rect x="717.4" y="1017.5" width="6.7" height="6.7" fill="#c8f400" opacity="1.0"/><ellipse cx="673" cy="965" rx="4" ry="4" fill="#10d000" /><ellipse cx="688" cy="966" rx="4" ry="4" fill="#10d000" /><ellipse cx="713" cy="967" rx="3" ry="3" fill="#10d000" /><ellipse cx="650" cy="988" rx="6" ry="4" fill="#10d000" /><ellipse cx="680" cy="997" rx="4" ry="4" fill="#10d000" /><ellipse cx="683" cy="930" rx="3" ry="3" fill="#10d000" /></g></g><ellipse cx="686.5" cy="978.5" rx="52.5" ry="71.5" fill="none" stroke="#50d0a0" stroke-width="2"/></g>
<ellipse cx="837.5" cy="972" rx="56.0" ry="73.5" fill="none" stroke="#0020c0" stroke-width="3" filter="url(#blurH)"/><g filter="url(#blur1)"><g clip-path="url(#c10)"><ellipse cx="837.5" cy="972" rx="54.5" ry="72" fill="#10a4ff"/><g filter="url(#blurI)"><rect x="818.8" y="923.9" width="7.3" height="7.3" fill="#0080ff" opacity="1.0"/><rect x="845.7" y="1028.2" width="5.1" height="5.1" fill="#0080ff" opacity="1.0"/><rect x="831.1" y="914.3" width="4.5" height="4.5" fill="#0078ff" opacity="1.0"/><rect x="791.5" y="979.5" width="8.7" height="8.7" fill="#0088ff" opacity="1.0"/><rect x="849.3" y="1032.4" width="6.9" height="6.9" fill="#0078ff" opacity="1.0"/><rect x="842.6" y="922.1" width="6.1" height="6.1" fill="#0088ff" opacity="1.0"/><rect x="797.7" y="944.9" width="8.1" height="8.1" fill="#0080ff" opacity="1.0"/><rect x="797.8" y="982.2" width="4.9" height="4.9" fill="#0080ff" opacity="1.0"/><rect x="842.6" y="913.4" width="4.3" height="4.3" fill="#0080ff" opacity="1.0"/><rect x="835.7" y="975.4" width="7.9" height="7.9" fill="#0078ff" opacity="1.0"/><rect x="845.8" y="965.9" width="5.5" height="5.5" fill="#0080ff" opacity="1.0"/><rect x="856.5" y="936.8" width="6.9" height="6.9" fill="#0088ff" opacity="1.0"/><rect x="836.4" y="950.6" width="6.2" height="6.2" fill="#0088ff" opacity="1.0"/><rect x="829.4" y="1007.6" width="4.8" height="4.8" fill="#0078ff" opacity="1.0"/><rect x="830.0" y="1035.6" width="4.4" height="4.4" fill="#0088ff" opacity="1.0"/><rect x="844.5" y="1023.3" width="5.6" height="5.6" fill="#0088ff" opacity="1.0"/><rect x="821.0" y="970.6" width="8.0" height="8.0" fill="#0080ff" opacity="1.0"/><rect x="835.3" y="995.2" width="4.3" height="4.3" fill="#0088ff" opacity="1.0"/><rect x="817.3" y="981.9" width="7.4" height="7.4" fill="#0078ff" opacity="1.0"/><rect x="814.8" y="955.8" width="7.3" height="7.3" fill="#0080ff" opacity="1.0"/><rect x="880.5" y="951.8" width="7.1" height="7.1" fill="#0078ff" opacity="1.0"/><rect x="800.0" y="937.7" width="6.0" height="6.0" fill="#0078ff" opacity="1.0"/><rect x="794.7" y="964.7" width="6.7" height="6.7" fill="#0080ff" opacity="1.0"/><rect x="814.9" y="960.6" width="5.8" height="5.8" fill="#0078ff" opacity="1.0"/><rect x="805.0" y="936.0" width="5.2" height="5.2" fill="#0078ff" opacity="1.0"/><rect x="870.4" y="929.1" width="5.4" height="5.4" fill="#0080ff" opacity="1.0"/><rect x="828.5" y="953.8" width="6.8" height="6.8" fill="#0080ff" opacity="1.0"/><rect x="855.5" y="973.6" width="7.1" height="7.1" fill="#0088ff" opacity="1.0"/><rect x="859.8" y="964.9" width="8.4" height="8.4" fill="#0088ff" opacity="1.0"/><rect x="866.8" y="957.4" width="6.0" height="6.0" fill="#0080ff" opacity="1.0"/><rect x="835.7" y="959.0" width="5.0" height="5.0" fill="#0080ff" opacity="1.0"/><rect x="830.6" y="918.4" width="7.0" height="7.0" fill="#0080ff" opacity="1.0"/><rect x="798.1" y="954.4" width="4.1" height="4.1" fill="#0080ff" opacity="1.0"/><rect x="848.8" y="924.6" width="5.3" height="5.3" fill="#0078ff" opacity="1.0"/><rect x="847.9" y="969.2" width="4.6" height="4.6" fill="#0078ff" opacity="1.0"/><rect x="836.1" y="916.4" width="4.5" height="4.5" fill="#0078ff" opacity="1.0"/><rect x="860.3" y="968.4" width="7.5" height="7.5" fill="#0088ff" opacity="1.0"/><rect x="839.5" y="923.6" width="6.7" height="6.7" fill="#0080ff" opacity="1.0"/><rect x="862.2" y="943.9" width="7.2" height="7.2" fill="#0080ff" opacity="1.0"/><rect x="856.7" y="939.6" width="5.8" height="5.8" fill="#0080ff" opacity="1.0"/><rect x="822.2" y="933.9" width="6.7" height="6.7" fill="#0088ff" opacity="1.0"/><rect x="818.9" y="933.3" width="8.1" height="8.1" fill="#0080ff" opacity="1.0"/><rect x="866.8" y="1014.4" width="7.7" height="7.7" fill="#0080ff" opacity="1.0"/><rect x="806.2" y="970.2" width="7.7" height="7.7" fill="#0080ff" opacity="1.0"/><rect x="866.5" y="968.7" width="5.0" height="5.0" fill="#0088ff" opacity="1.0"/><rect x="881.3" y="963.5" width="8.7" height="8.7" fill="#0078ff" opacity="1.0"/><rect x="882.9" y="954.0" width="5.1" height="5.1" fill="#0080ff" opacity="1.0"/><rect x="833.8" y="949.7" width="6.4" height="6.4" fill="#0088ff" opacity="1.0"/><rect x="870.4" y="968.6" width="7.3" height="7.3" fill="#0088ff" opacity="1.0"/><rect x="794.2" y="992.6" width="8.5" height="8.5" fill="#0088ff" opacity="1.0"/><rect x="862.6" y="969.6" width="4.9" height="4.9" fill="#0088ff" opacity="1.0"/><rect x="818.8" y="1011.5" width="8.9" height="8.9" fill="#0078ff" opacity="1.0"/><rect x="834.1" y="1005.9" width="4.4" height="4.4" fill="#0080ff" opacity="1.0"/><rect x="866.6" y="922.8" width="8.1" height="8.1" fill="#0078ff" opacity="1.0"/><rect x="852.4" y="951.3" width="6.7" height="6.7" fill="#0080ff" opacity="1.0"/><rect x="858.8" y="917.1" width="7.7" height="7.7" fill="#0080ff" opacity="1.0"/><rect x="829.3" y="1021.5" width="8.1" height="8.1" fill="#0080ff" opacity="1.0"/><rect x="837.3" y="1008.0" width="5.6" height="5.6" fill="#0088ff" opacity="1.0"/><rect x="827.6" y="920.6" width="8.6" height="8.6" fill="#0078ff" opacity="1.0"/><rect x="875.7" y="993.1" width="8.1" height="8.1" fill="#0088ff" opacity="1.0"/><rect x="828.8" y="1028.6" width="6.5" height="6.5" fill="#0088ff" opacity="1.0"/><rect x="801.0" y="972.3" width="8.4" height="8.4" fill="#0080ff" opacity="1.0"/><rect x="848.5" y="1010.2" width="4.7" height="4.7" fill="#0080ff" opacity="1.0"/><rect x="834.0" y="1002.2" width="6.8" height="6.8" fill="#0078ff" opacity="1.0"/><rect x="855.0" y="976.0" width="6.4" height="6.4" fill="#0080ff" opacity="1.0"/><rect x="797.7" y="966.4" width="4.1" height="4.1" fill="#0080ff" opacity="1.0"/><rect x="831.1" y="987.0" width="6.5" height="6.5" fill="#0088ff" opacity="1.0"/><rect x="806.7" y="941.4" width="6.5" height="6.5" fill="#0078ff" opacity="1.0"/><rect x="837.5" y="937.4" width="6.6" height="6.6" fill="#0078ff" opacity="1.0"/><rect x="807.2" y="964.8" width="6.1" height="6.1" fill="#0078ff" opacity="1.0"/><rect x="831.6" y="914.3" width="5.2" height="5.2" fill="#0080ff" opacity="1.0"/><rect x="809.0" y="945.9" width="4.6" height="4.6" fill="#0080ff" opacity="1.0"/><rect x="881.0" y="991.6" width="5.8" height="5.8" fill="#0078ff" opacity="1.0"/><rect x="825.4" y="968.8" width="8.9" height="8.9" fill="#0080ff" opacity="1.0"/><rect x="802.9" y="962.4" width="6.6" height="6.6" fill="#0078ff" opacity="1.0"/><rect x="829.9" y="953.3" width="4.5" height="4.5" fill="#0078ff" opacity="1.0"/><rect x="819.9" y="988.6" width="6.6" height="6.6" fill="#0080ff" opacity="1.0"/><rect x="810.6" y="1024.0" width="4.4" height="4.4" fill="#0078ff" opacity="1.0"/><rect x="814.0" y="921.6" width="6.1" height="6.1" fill="#0088ff" opacity="1.0"/><rect x="869.5" y="939.8" width="4.7" height="4.7" fill="#0088ff" opacity="1.0"/><rect x="844.8" y="1000.0" width="4.4" height="4.4" fill="#0080ff" opacity="1.0"/><rect x="865.7" y="927.7" width="8.5" height="8.5" fill="#0078ff" opacity="1.0"/><rect x="879.8" y="989.3" width="8.0" height="8.0" fill="#0080ff" opacity="1.0"/><rect x="848.2" y="934.6" width="5.3" height="5.3" fill="#0080ff" opacity="1.0"/><rect x="832.0" y="949.7" width="6.8" height="6.8" fill="#0078ff" opacity="1.0"/><rect x="848.4" y="909.1" width="7.5" height="7.5" fill="#0080ff" opacity="1.0"/><rect x="850.4" y="976.7" width="5.0" height="5.0" fill="#0078ff" opacity="1.0"/><rect x="837.1" y="928.3" width="5.7" height="5.7" fill="#0080ff" opacity="1.0"/><rect x="885.2" y="974.3" width="5.2" height="5.2" fill="#0078ff" opacity="1.0"/><rect x="829.1" y="970.2" width="8.2" height="8.2" fill="#0078ff" opacity="1.0"/></g></g><ellipse cx="837.5" cy="972" rx="53.5" ry="71.0" fill="none" stroke="#0050ff" stroke-width="2"/></g>
<ellipse cx="241" cy="1392" rx="56.5" ry="72.5" fill="none" stroke="#0018a0" stroke-width="3" filter="url(#blurH)"/><g filter="url(#blur1)"><g clip-path="url(#c11)"><ellipse cx="241" cy="1392" rx="55" ry="71" fill="#ff00d0"/><g filter="url(#blurI)"><ellipse cx="215" cy="1390" rx="28" ry="55" fill="#ff0060" opacity="0.8"/><path d="M186 1395 C200 1405 212 1420 225 1428 C240 1438 255 1445 270 1450 C280 1452 290 1448 296 1440 L296 1470 L186 1470z" fill="#ff0008" /><path d="M258 1345 l12 -6 l10 20 l4 30 l-4 35 l-6 6 l-4 -30 l-6 -25z" fill="#ffb0f0" opacity="0.8"/><rect x="261.8" y="1396.1" width="4.3" height="4.3" fill="#ffd0f8" opacity="1.0"/><rect x="269.7" y="1415.7" width="3.4" height="3.4" fill="#ffffff" opacity="1.0"/><rect x="280.7" y="1378.3" width="3.3" height="3.3" fill="#ffffff" opacity="1.0"/><rect x="280.2" y="1396.6" width="3.9" height="3.9" fill="#ffd0f8" opacity="1.0"/><rect x="266.3" y="1383.2" width="3.2" height="3.2" fill="#ffd0f8" opacity="1.0"/><rect x="275.8" y="1376.4" width="3.3" height="3.3" fill="#ffffff" opacity="1.0"/><rect x="269.7" y="1405.8" width="3.1" height="3.1" fill="#ffffff" opacity="1.0"/><rect x="279.2" y="1400.6" width="4.5" height="4.5" fill="#ffffff" opacity="1.0"/><rect x="260.6" y="1381.0" width="4.7" height="4.7" fill="#ffffff" opacity="1.0"/><rect x="266.2" y="1358.2" width="4.1" height="4.1" fill="#ffd0f8" opacity="1.0"/><rect x="266.9" y="1379.7" width="3.8" height="3.8" fill="#ffd0f8" opacity="1.0"/><rect x="259.7" y="1397.8" width="5.0" height="5.0" fill="#ffd0f8" opacity="1.0"/><rect x="272.3" y="1384.5" width="4.1" height="4.1" fill="#ffd0f8" opacity="1.0"/><rect x="271.7" y="1391.9" width="3.4" height="3.4" fill="#ffffff" opacity="1.0"/></g></g><ellipse cx="241" cy="1392" rx="54.0" ry="70.0" fill="none" stroke="#ffe8b0" stroke-width="2"/></g>
<ellipse cx="387" cy="1391.5" rx="57.5" ry="76.0" fill="none" stroke="#0018a0" stroke-width="3" filter="url(#blurH)"/><g filter="url(#blur1)"><g clip-path="url(#c12)"><ellipse cx="387" cy="1391.5" rx="56" ry="74.5" fill="#ff0010"/><g filter="url(#blurI)"><path d="M331 1390 C331 1360 338 1335 352 1322 L362 1330 C352 1350 346 1380 348 1410 C350 1435 356 1450 365 1462 L352 1462 C338 1445 331 1420 331 1390z" fill="#ffc8f0" /><path d="M345 1335 C358 1322 380 1316 400 1322 C395 1338 380 1350 360 1360 C352 1362 346 1352 345 1335z" fill="#ff00d0" /><ellipse cx="393" cy="1400" rx="40" ry="52" fill="#ff7800" /><ellipse cx="394" cy="1405" rx="27" ry="36" fill="#ffb000" /><ellipse cx="393" cy="1408" rx="20" ry="28" fill="#ffe800" /><rect x="393.6" y="1397.3" width="5.6" height="5.6" fill="#ffd000" opacity="1.0"/><rect x="400.8" y="1388.1" width="4.0" height="4.0" fill="#ff9800" opacity="1.0"/><rect x="386.4" y="1420.0" width="4.6" height="4.6" fill="#ffd000" opacity="1.0"/><rect x="393.3" y="1412.2" width="5.9" height="5.9" fill="#ff9800" opacity="1.0"/><rect x="391.7" y="1424.6" width="6.9" height="6.9" fill="#ff9800" opacity="1.0"/><rect x="397.6" y="1391.0" width="4.3" height="4.3" fill="#ff9800" opacity="1.0"/><rect x="373.3" y="1400.7" width="6.4" height="6.4" fill="#ffd000" opacity="1.0"/><rect x="374.3" y="1381.9" width="5.0" height="5.0" fill="#ffd000" opacity="1.0"/><rect x="393.3" y="1375.6" width="5.3" height="5.3" fill="#ff9800" opacity="1.0"/><rect x="393.0" y="1376.6" width="6.7" height="6.7" fill="#ff9800" opacity="1.0"/><rect x="408.6" y="1399.8" width="4.7" height="4.7" fill="#ffd000" opacity="1.0"/><rect x="399.6" y="1423.7" width="4.7" height="4.7" fill="#ffd000" opacity="1.0"/></g></g><ellipse cx="387" cy="1391.5" rx="55.0" ry="73.5" fill="none" stroke="#ffe0e8" stroke-width="2"/></g>
<ellipse cx="547.5" cy="1393" rx="56.0" ry="76.5" fill="none" stroke="#0020a0" stroke-width="3" filter="url(#blurH)"/><g filter="url(#blur1)"><g clip-path="url(#c13)"><ellipse cx="547.5" cy="1393" rx="54.5" ry="75" fill="#b8f000"/><g filter="url(#blurI)"><ellipse cx="547.5" cy="1394" rx="50.5" ry="71" fill="#00f000" /><ellipse cx="548" cy="1393" rx="40" ry="58" fill="#00e8ff" /><rect x="540.8" y="1401.5" width="7.7" height="7.7" fill="#00b0ff" opacity="1.0"/><rect x="542.2" y="1429.6" width="4.8" height="4.8" fill="#00d0ff" opacity="1.0"/><rect x="543.7" y="1407.9" width="4.7" height="4.7" fill="#00b0ff" opacity="1.0"/><rect x="532.1" y="1359.5" width="7.2" height="7.2" fill="#00d0ff" opacity="1.0"/><rect x="552.8" y="1405.8" width="5.6" height="5.6" fill="#00b0ff" opacity="1.0"/><rect x="554.4" y="1408.1" width="4.6" height="4.6" fill="#00c0ff" opacity="1.0"/><rect x="550.8" y="1422.4" width="5.3" height="5.3" fill="#00d0ff" opacity="1.0"/><rect x="564.8" y="1398.4" width="6.6" height="6.6" fill="#00b0ff" opacity="1.0"/><rect x="553.7" y="1388.5" width="6.2" height="6.2" fill="#00c0ff" opacity="1.0"/><rect x="557.5" y="1380.9" width="4.9" height="4.9" fill="#00b0ff" opacity="1.0"/><rect x="517.1" y="1403.5" width="4.4" height="4.4" fill="#00c0ff" opacity="1.0"/><rect x="564.4" y="1385.9" width="7.8" height="7.8" fill="#00d0ff" opacity="1.0"/><rect x="568.2" y="1393.3" width="7.9" height="7.9" fill="#00b0ff" opacity="1.0"/><rect x="540.3" y="1403.6" width="4.8" height="4.8" fill="#00d0ff" opacity="1.0"/><rect x="531.0" y="1360.2" width="5.3" height="5.3" fill="#00b0ff" opacity="1.0"/><rect x="560.5" y="1363.1" width="5.0" height="5.0" fill="#00c0ff" opacity="1.0"/><rect x="544.3" y="1414.0" width="4.8" height="4.8" fill="#00d0ff" opacity="1.0"/><rect x="526.7" y="1418.6" width="4.5" height="4.5" fill="#00d0ff" opacity="1.0"/><rect x="536.5" y="1386.6" width="8.0" height="8.0" fill="#00c0ff" opacity="1.0"/><rect x="561.9" y="1378.6" width="7.5" height="7.5" fill="#00c0ff" opacity="1.0"/><rect x="551.5" y="1404.8" width="4.2" height="4.2" fill="#00c0ff" opacity="1.0"/><rect x="526.7" y="1374.7" width="7.1" height="7.1" fill="#00b0ff" opacity="1.0"/><rect x="565.2" y="1387.6" width="4.3" height="4.3" fill="#00c0ff" opacity="1.0"/><rect x="549.3" y="1373.7" width="6.4" height="6.4" fill="#00b0ff" opacity="1.0"/><rect x="551.7" y="1363.3" width="6.3" height="6.3" fill="#00d0ff" opacity="1.0"/><rect x="522.4" y="1386.5" width="6.5" height="6.5" fill="#00b0ff" opacity="1.0"/><rect x="529.0" y="1368.6" width="7.0" height="7.0" fill="#00d0ff" opacity="1.0"/><rect x="567.6" y="1406.5" width="5.7" height="5.7" fill="#00c0ff" opacity="1.0"/><rect x="521.5" y="1398.6" width="5.0" height="5.0" fill="#00d0ff" opacity="1.0"/><rect x="556.1" y="1374.5" width="7.3" height="7.3" fill="#00d0ff" opacity="1.0"/><rect x="543.1" y="1397.9" width="7.7" height="7.7" fill="#00c0ff" opacity="1.0"/><rect x="521.8" y="1394.8" width="6.6" height="6.6" fill="#00d0ff" opacity="1.0"/><rect x="550.5" y="1376.4" width="7.7" height="7.7" fill="#00c0ff" opacity="1.0"/><rect x="540.1" y="1375.3" width="4.2" height="4.2" fill="#00b0ff" opacity="1.0"/><rect x="537.4" y="1404.2" width="4.5" height="4.5" fill="#00b0ff" opacity="1.0"/><rect x="523.1" y="1392.9" width="5.3" height="5.3" fill="#00d0ff" opacity="1.0"/><rect x="556.7" y="1405.3" width="4.6" height="4.6" fill="#00c0ff" opacity="1.0"/><rect x="570.2" y="1395.0" width="5.4" height="5.4" fill="#00b0ff" opacity="1.0"/><rect x="552.2" y="1394.9" width="6.9" height="6.9" fill="#00b0ff" opacity="1.0"/><rect x="542.6" y="1386.0" width="4.2" height="4.2" fill="#00d0ff" opacity="1.0"/></g></g><ellipse cx="547.5" cy="1393" rx="53.5" ry="74.0" fill="none" stroke="#e0ff40" stroke-width="2"/></g>
<ellipse cx="703.5" cy="1387" rx="56.0" ry="75.5" fill="none" stroke="#0020c0" stroke-width="3" filter="url(#blurH)"/><g filter="url(#blur1)"><g clip-path="url(#c14)"><ellipse cx="703.5" cy="1387" rx="54.5" ry="74" fill="#00b8ff"/><g filter="url(#blurI)"><ellipse cx="703" cy="1390" rx="42" ry="60" fill="#0000e0" /><ellipse cx="710" cy="1350" rx="20" ry="15" fill="#0010e8" /></g></g><ellipse cx="703.5" cy="1387" rx="53.5" ry="73.0" fill="none" stroke="#40c8ff" stroke-width="2"/></g>
<ellipse cx="847.5" cy="1394.5" rx="57.0" ry="75.0" fill="none" stroke="#0018c0" stroke-width="3" filter="url(#blurH)"/><g filter="url(#blur1)"><g clip-path="url(#c15)"><ellipse cx="847.5" cy="1394.5" rx="55.5" ry="73.5" fill="#1a84ff"/><g filter="url(#blurI)"><rect x="829.8" y="1363.8" width="4.6" height="4.6" fill="#2a98ff" opacity="1.0"/><rect x="818.9" y="1372.8" width="6.4" height="6.4" fill="#3aa0ff" opacity="1.0"/><rect x="837.3" y="1390.7" width="4.2" height="4.2" fill="#3aa0ff" opacity="1.0"/><rect x="868.8" y="1369.1" width="4.7" height="4.7" fill="#2a98ff" opacity="1.0"/><rect x="800.0" y="1376.8" width="7.7" height="7.7" fill="#2a98ff" opacity="1.0"/><rect x="853.4" y="1363.7" width="7.0" height="7.0" fill="#2a98ff" opacity="1.0"/><rect x="809.2" y="1408.5" width="7.6" height="7.6" fill="#3aa0ff" opacity="1.0"/><rect x="865.2" y="1365.9" width="5.4" height="5.4" fill="#2a98ff" opacity="1.0"/><rect x="823.3" y="1377.0" width="4.1" height="4.1" fill="#3aa0ff" opacity="1.0"/><rect x="850.0" y="1414.7" width="7.9" height="7.9" fill="#2a98ff" opacity="1.0"/><rect x="800.9" y="1384.9" width="7.6" height="7.6" fill="#2a98ff" opacity="1.0"/><rect x="819.2" y="1420.9" width="4.5" height="4.5" fill="#2a98ff" opacity="1.0"/><rect x="832.0" y="1385.0" width="6.2" height="6.2" fill="#2a98ff" opacity="1.0"/><rect x="825.3" y="1365.5" width="6.6" height="6.6" fill="#2a98ff" opacity="1.0"/><rect x="847.2" y="1337.1" width="7.8" height="7.8" fill="#2a98ff" opacity="1.0"/><rect x="796.1" y="1382.8" width="6.4" height="6.4" fill="#2a98ff" opacity="1.0"/><rect x="851.5" y="1402.9" width="6.3" height="6.3" fill="#2a98ff" opacity="1.0"/><rect x="800.8" y="1398.7" width="7.8" height="7.8" fill="#2a98ff" opacity="1.0"/><rect x="804.5" y="1377.1" width="6.9" height="6.9" fill="#2a98ff" opacity="1.0"/><rect x="863.1" y="1362.8" width="4.8" height="4.8" fill="#2a98ff" opacity="1.0"/><rect x="818.9" y="1370.3" width="4.9" height="4.9" fill="#3aa0ff" opacity="1.0"/><rect x="814.0" y="1412.0" width="5.2" height="5.2" fill="#3aa0ff" opacity="1.0"/><rect x="856.2" y="1376.3" width="6.8" height="6.8" fill="#2a98ff" opacity="1.0"/><rect x="837.0" y="1329.0" width="6.6" height="6.6" fill="#2a98ff" opacity="1.0"/><rect x="869.4" y="1366.4" width="5.5" height="5.5" fill="#3aa0ff" opacity="1.0"/><rect x="802.7" y="1353.5" width="6.8" height="6.8" fill="#3aa0ff" opacity="1.0"/><rect x="857.4" y="1351.6" width="4.7" height="4.7" fill="#2a98ff" opacity="1.0"/><rect x="822.2" y="1388.3" width="7.9" height="7.9" fill="#3aa0ff" opacity="1.0"/><rect x="815.2" y="1375.3" width="5.1" height="5.1" fill="#2a98ff" opacity="1.0"/><rect x="852.6" y="1355.3" width="4.5" height="4.5" fill="#3aa0ff" opacity="1.0"/><rect x="827.6" y="1398.9" width="7.1" height="7.1" fill="#3aa0ff" opacity="1.0"/><rect x="838.7" y="1410.0" width="6.7" height="6.7" fill="#3aa0ff" opacity="1.0"/><rect x="853.7" y="1418.8" width="6.0" height="6.0" fill="#2a98ff" opacity="1.0"/><rect x="866.6" y="1353.2" width="4.5" height="4.5" fill="#2a98ff" opacity="1.0"/><rect x="804.3" y="1408.1" width="7.4" height="7.4" fill="#2a98ff" opacity="1.0"/><rect x="805.9" y="1372.1" width="6.2" height="6.2" fill="#3aa0ff" opacity="1.0"/><rect x="798.5" y="1382.2" width="6.4" height="6.4" fill="#3aa0ff" opacity="1.0"/><rect x="835.8" y="1426.5" width="4.1" height="4.1" fill="#3aa0ff" opacity="1.0"/><rect x="835.5" y="1379.5" width="6.1" height="6.1" fill="#2a98ff" opacity="1.0"/><rect x="861.3" y="1384.2" width="7.8" height="7.8" fill="#2a98ff" opacity="1.0"/><rect x="850.8" y="1402.1" width="4.4" height="4.4" fill="#3aa0ff" opacity="1.0"/><rect x="828.0" y="1375.7" width="6.5" height="6.5" fill="#2a98ff" opacity="1.0"/><rect x="811.7" y="1372.7" width="5.5" height="5.5" fill="#3aa0ff" opacity="1.0"/><rect x="839.4" y="1389.1" width="6.7" height="6.7" fill="#3aa0ff" opacity="1.0"/><rect x="840.0" y="1331.8" width="4.1" height="4.1" fill="#2a98ff" opacity="1.0"/><rect x="842.0" y="1382.2" width="5.9" height="5.9" fill="#2a98ff" opacity="1.0"/><rect x="819.7" y="1409.1" width="4.0" height="4.0" fill="#3aa0ff" opacity="1.0"/><rect x="801.0" y="1360.9" width="4.9" height="4.9" fill="#2a98ff" opacity="1.0"/><rect x="808.2" y="1347.1" width="4.4" height="4.4" fill="#2a98ff" opacity="1.0"/><rect x="798.8" y="1393.8" width="4.3" height="4.3" fill="#2a98ff" opacity="1.0"/></g></g><ellipse cx="847.5" cy="1394.5" rx="54.5" ry="72.5" fill="none" stroke="#0060ff" stroke-width="2"/></g>
<rect x="1001" y="1078" width="43" height="410" fill="url(#gbar)"/>
<rect x="1045.5" y="1076" width="1.5" height="414" fill="#c8c8c8"/>
<rect x="1048" y="1100.70" width="43.5" height="26.42" fill="#e6a8dc"/>
<rect x="1048" y="1126.52" width="43.5" height="26.42" fill="#ff00c8"/>
<rect x="1048" y="1152.34" width="43.5" height="26.42" fill="#ff0000"/>
<rect x="1048" y="1178.16" width="43.5" height="26.42" fill="#ff5000"/>
<rect x="1048" y="1203.98" width="43.5" height="26.42" fill="#ff8c00"/>
<rect x="1048" y="1229.80" width="43.5" height="26.42" fill="#ffcc00"/>
<rect x="1048" y="1255.62" width="43.5" height="26.42" fill="#ffff00"/>
<rect x="1048" y="1281.44" width="43.5" height="26.42" fill="#a4ec00"/>
<rect x="1048" y="1307.26" width="43.5" height="26.42" fill="#00f000"/>
<rect x="1048" y="1333.08" width="43.5" height="26.42" fill="#00e4ff"/>
<rect x="1048" y="1358.90" width="43.5" height="26.42" fill="#00a8ff"/>
<rect x="1048" y="1384.72" width="43.5" height="26.42" fill="#0068ff"/>
<rect x="1048" y="1410.54" width="43.5" height="26.42" fill="#0000f0"/>
<rect x="1048" y="1436.36" width="43.5" height="26.42" fill="#000098"/>
<rect x="1048" y="1462.18" width="43.5" height="26.42" fill="#000000"/>
<text x="60.60" y="128.50" font-size="92" >A</text>
<text x="441.69" y="173.00" font-size="57" textLength="258.21" lengthAdjust="spacing" >Weight (g)</text>
<text x="228.85" y="258.80" font-size="56.5" >0</text>
<text x="329.85" y="258.80" font-size="56.5" textLength="98.08" lengthAdjust="spacing" >0.01</text>
<text x="487.85" y="258.80" font-size="56.5" textLength="98.08" lengthAdjust="spacing" >0.03</text>
<text x="646.55" y="258.80" font-size="56.5" textLength="100.22" lengthAdjust="spacing" >0.05</text>
<text x="804.05" y="258.80" font-size="56.5" textLength="100.23" lengthAdjust="spacing" >0.07</text>
<g transform="translate(68.7,497) rotate(-90)"><text x="-1.03" y="0.00" font-size="60.5" textLength="91.48" lengthAdjust="spacing" >HA</text></g>
<g transform="translate(134.8,607) rotate(-90)"><text x="-3.32" y="0.00" font-size="68" textLength="304.58" lengthAdjust="spacing" >Commerce</text></g>
<g transform="translate(126.4,994) rotate(-90)"><text x="-1.03" y="0.00" font-size="66" textLength="279.51" lengthAdjust="spacing" >Ti-CoHA</text></g>
<g transform="translate(126.2,1451) rotate(-90)"><text x="-1.05" y="0.00" font-size="67.5" textLength="343.55" lengthAdjust="spacing" >TNT-CoHA</text></g>
<g transform="translate(993,1096.5) scale(0.8,1)"><text x="-52.68" y="0.00" font-size="36" >255</text></g>
<g transform="translate(990,1192) scale(0.8,1)"><text x="-52.14" y="0.00" font-size="36" >191</text></g>
<g transform="translate(992,1294) scale(0.8,1)"><text x="-52.80" y="0.00" font-size="36" >128</text></g>
<g transform="translate(989,1391) scale(0.8,1)"><text x="-35.33" y="0.00" font-size="36" >64</text></g>
<g transform="translate(989,1475) scale(0.8,1)"><text x="-16.63" y="0.00" font-size="36" >0</text></g>
<text x="1142.47" y="124.00" font-size="92" >B</text>
<line x1="1311" y1="77" x2="1311" y2="666" stroke="#000" stroke-width="3.6"/>
<line x1="1297" y1="652.4" x2="2423.5" y2="652.4" stroke="#000" stroke-width="4"/>
<line x1="1297" y1="652.4" x2="1311" y2="652.4" stroke="#000" stroke-width="3.6"/>
<text x="1271.46" y="663.20" font-size="40" >5</text>
<line x1="1297" y1="588.6" x2="1311" y2="588.6" stroke="#000" stroke-width="3.6"/>
<text x="1251.52" y="599.42" font-size="40" >10</text>
<line x1="1297" y1="524.8" x2="1311" y2="524.8" stroke="#000" stroke-width="3.6"/>
<text x="1251.46" y="535.65" font-size="40" >15</text>
<line x1="1297" y1="461.1" x2="1311" y2="461.1" stroke="#000" stroke-width="3.6"/>
<text x="1251.52" y="471.87" font-size="40" >20</text>
<line x1="1297" y1="397.3" x2="1311" y2="397.3" stroke="#000" stroke-width="3.6"/>
<text x="1251.46" y="408.10" font-size="40" >25</text>
<line x1="1297" y1="333.5" x2="1311" y2="333.5" stroke="#000" stroke-width="3.6"/>
<text x="1251.52" y="344.32" font-size="40" >30</text>
<line x1="1297" y1="269.7" x2="1311" y2="269.7" stroke="#000" stroke-width="3.6"/>
<text x="1251.46" y="280.55" font-size="40" >35</text>
<line x1="1297" y1="206.0" x2="1311" y2="206.0" stroke="#000" stroke-width="3.6"/>
<text x="1251.52" y="216.77" font-size="40" >40</text>
<line x1="1297" y1="142.2" x2="1311" y2="142.2" stroke="#000" stroke-width="3.6"/>
<text x="1251.46" y="153.00" font-size="40" >45</text>
<line x1="1297" y1="78.4" x2="1311" y2="78.4" stroke="#000" stroke-width="3.6"/>
<text x="1251.52" y="89.22" font-size="40" >50</text>
<line x1="1311.0" y1="652" x2="1311.0" y2="666" stroke="#000" stroke-width="3.6"/>
<text x="1275.56" y="702.50" font-size="40.5" >0.00</text>
<line x1="1681.3" y1="652" x2="1681.3" y2="666" stroke="#000" stroke-width="3.6"/>
<text x="1645.88" y="702.50" font-size="40.5" >0.05</text>
<line x1="2051.7" y1="652" x2="2051.7" y2="666" stroke="#000" stroke-width="3.6"/>
<text x="2016.26" y="702.50" font-size="40.5" >0.10</text>
<line x1="2422.1" y1="652" x2="2422.1" y2="666" stroke="#000" stroke-width="3.6"/>
<text x="2386.58" y="702.50" font-size="40.5" >0.15</text>
<line x1="1496.2" y1="652" x2="1496.2" y2="659" stroke="#000" stroke-width="3.6"/>
<line x1="1866.5" y1="652" x2="1866.5" y2="659" stroke="#000" stroke-width="3.6"/>
<line x1="2236.9" y1="652" x2="2236.9" y2="659" stroke="#000" stroke-width="3.6"/>
<text x="1609.64" y="762.40" font-size="48.4" textLength="571.29" lengthAdjust="spacing" >Cobalt concentration (mM)</text>
<g transform="translate(1190,397) rotate(-90)"><text x="-0.70" y="0.00" font-size="41" >R</text><text x="25.28" y="17.00" font-size="41" >2</text><text x="61.40" y="0.00" font-size="41" >(</text><text x="75.96" y="0.00" font-size="41" >s</text><text x="91.90" y="-21.60" font-size="41" >-</text><text x="106.22" y="-21.60" font-size="41" >1</text><text x="128.68" y="0.00" font-size="41" >)</text></g>
<line x1="1405" y1="624.5" x2="2293.6" y2="37.6" stroke="#dd0000" stroke-width="2.3" stroke-dasharray="15 17"/>
<line x1="1417" y1="635.3" x2="2331.7" y2="238.3" stroke="#0000b8" stroke-width="2.3" stroke-dasharray="12.5 16.5"/>
<rect x="1428.8" y="611.5" width="18.4" height="18" fill="#0000ff"/>
<rect x="1683.5" y="542.2" width="18.4" height="18" fill="#0000ff"/>
<rect x="1937.8" y="416.7" width="18.4" height="18" fill="#0000ff"/>
<rect x="2192.2" y="293.5" width="18.4" height="18" fill="#0000ff"/>
<polygon points="1435.5,599 1447.25,617 1423.75,617" fill="#ff0000"/>
<polygon points="1684.7,457.3 1696.45,476.7 1672.95,476.7" fill="#ff0000"/>
<polygon points="1934,236.8 1945.75,256.5 1922.25,256.5" fill="#ff0000"/>
<polygon points="2184,103.4 2195.75,121.8 2172.25,121.8" fill="#ff0000"/>
<rect x="1384" y="102" width="33" height="34.4" fill="#0000ff"/>
<polygon points="1399.8,145.5 1421.05,183.4 1378.55,183.4" fill="#ff0000"/>
<text x="1457.38" y="132.40" font-size="39.5" textLength="158.41" lengthAdjust="spacing" >Ti-CoHA</text>
<text x="1456.88" y="183.40" font-size="39.5" textLength="202.01" lengthAdjust="spacing" >TNT-CoHA</text>
<text x="1959.91" y="81.60" font-size="40.5" fill="#f20000" textLength="163.18" lengthAdjust="spacing" >R=0.9905</text>
<text x="2173.82" y="378.00" font-size="40" fill="#0000e0" textLength="162.21" lengthAdjust="spacing" >R=0.9840</text>
<text x="1740.82" y="171.00" font-size="44" fill="#f20000" >r</text>
<text x="1761.45" y="189.50" font-size="25" fill="#f20000" >2</text>
<text x="1772.81" y="171.00" font-size="44" fill="#f20000" >=</text>
<text x="1812.15" y="171.00" font-size="44" fill="#f20000" textLength="101.36" lengthAdjust="spacing" >340.3</text>
<text x="1926.52" y="171.00" font-size="44" fill="#f20000" textLength="77.65" lengthAdjust="spacing" >mM</text>
<text x="2005.97" y="144.60" font-size="25.5" fill="#f20000" >-</text>
<text x="2014.96" y="144.60" font-size="25.5" fill="#f20000" >1</text>
<text x="2029.87" y="171.00" font-size="44" fill="#f20000" >s</text>
<text x="2046.77" y="144.60" font-size="25.5" fill="#f20000" >-</text>
<text x="2056.06" y="144.60" font-size="25.5" fill="#f20000" >1</text>
<text x="2069.79" y="456.60" font-size="45" fill="#0000e0" >r</text>
<text x="2089.46" y="474.90" font-size="22.5" fill="#0000e0" >2</text>
<text x="2100.16" y="456.60" font-size="45" fill="#0000e0" >=</text>
<text x="2127.71" y="456.60" font-size="45" fill="#0000e0" textLength="102.39" lengthAdjust="spacing" >211.7</text>
<text x="2241.99" y="456.60" font-size="45" fill="#0000e0" textLength="79.50" lengthAdjust="spacing" >mM</text>
<text x="2321.36" y="431.50" font-size="28.5" fill="#0000e0" >-</text>
<text x="2330.52" y="431.50" font-size="28.5" fill="#0000e0" >1</text>
<text x="2345.34" y="456.60" font-size="45" fill="#0000e0" >s</text>
<text x="2362.16" y="431.50" font-size="28.5" fill="#0000e0" >-</text>
<text x="2370.92" y="431.50" font-size="28.5" fill="#0000e0" >1</text>
<text x="1137.41" y="900.00" font-size="96" >C</text>
<line x1="1310.8" y1="876.5" x2="1310.8" y2="1494" stroke="#000" stroke-width="3.8"/>
<line x1="1297" y1="1485.8" x2="2423.3" y2="1485.8" stroke="#000" stroke-width="4.2"/>
<line x1="1297" y1="1485.8" x2="1311" y2="1485.8" stroke="#000" stroke-width="3.6"/>
<text x="1250.54" y="1497.30" font-size="40.5" >50</text>
<line x1="1297" y1="1399.0" x2="1311" y2="1399.0" stroke="#000" stroke-width="3.6"/>
<text x="1230.29" y="1410.51" font-size="40.5" >100</text>
<line x1="1297" y1="1312.2" x2="1311" y2="1312.2" stroke="#000" stroke-width="3.6"/>
<text x="1230.29" y="1323.73" font-size="40.5" >150</text>
<line x1="1297" y1="1225.4" x2="1311" y2="1225.4" stroke="#000" stroke-width="3.6"/>
<text x="1230.29" y="1236.94" font-size="40.5" >200</text>
<line x1="1297" y1="1138.7" x2="1311" y2="1138.7" stroke="#000" stroke-width="3.6"/>
<text x="1230.29" y="1150.16" font-size="40.5" >250</text>
<line x1="1297" y1="1051.9" x2="1311" y2="1051.9" stroke="#000" stroke-width="3.6"/>
<text x="1230.29" y="1063.38" font-size="40.5" >300</text>
<line x1="1297" y1="965.1" x2="1311" y2="965.1" stroke="#000" stroke-width="3.6"/>
<text x="1230.29" y="976.59" font-size="40.5" >350</text>
<line x1="1297" y1="878.3" x2="1311" y2="878.3" stroke="#000" stroke-width="3.6"/>
<text x="1230.29" y="889.80" font-size="40.5" >400</text>
<line x1="1396.0" y1="1485" x2="1396.0" y2="1500" stroke="#000" stroke-width="3.6"/>
<text x="1386.00" y="1536.40" font-size="40" >0</text>
<line x1="1566.9" y1="1485" x2="1566.9" y2="1500" stroke="#000" stroke-width="3.6"/>
<text x="1546.84" y="1536.40" font-size="40" >20</text>
<line x1="1737.8" y1="1485" x2="1737.8" y2="1500" stroke="#000" stroke-width="3.6"/>
<text x="1718.33" y="1536.40" font-size="40" >40</text>
<line x1="1908.8" y1="1485" x2="1908.8" y2="1500" stroke="#000" stroke-width="3.6"/>
<text x="1888.84" y="1536.40" font-size="40" >60</text>
<line x1="2079.7" y1="1485" x2="2079.7" y2="1500" stroke="#000" stroke-width="3.6"/>
<text x="2059.78" y="1536.40" font-size="40" >80</text>
<line x1="2250.6" y1="1485" x2="2250.6" y2="1500" stroke="#000" stroke-width="3.6"/>
<text x="2219.76" y="1536.40" font-size="40" >100</text>
<line x1="2421.5" y1="1485" x2="2421.5" y2="1500" stroke="#000" stroke-width="3.6"/>
<text x="2390.68" y="1536.40" font-size="40" >120</text>
<line x1="1310.5" y1="1485" x2="1310.5" y2="1494" stroke="#000" stroke-width="3.6"/>
<line x1="1481.5" y1="1485" x2="1481.5" y2="1494" stroke="#000" stroke-width="3.6"/>
<line x1="1652.4" y1="1485" x2="1652.4" y2="1494" stroke="#000" stroke-width="3.6"/>
<line x1="1823.3" y1="1485" x2="1823.3" y2="1494" stroke="#000" stroke-width="3.6"/>
<line x1="1994.2" y1="1485" x2="1994.2" y2="1494" stroke="#000" stroke-width="3.6"/>
<line x1="2165.1" y1="1485" x2="2165.1" y2="1494" stroke="#000" stroke-width="3.6"/>
<line x1="2336.1" y1="1485" x2="2336.1" y2="1494" stroke="#000" stroke-width="3.6"/>
<text x="1649.98" y="1597.50" font-size="48" textLength="439.59" lengthAdjust="spacing" >Magnetization (emug</text>
<text x="2089.12" y="1575.40" font-size="29" style="font-weight:normal" >-</text>
<text x="2100.18" y="1575.40" font-size="29" >1</text>
<text x="2113.45" y="1597.50" font-size="48" >)</text>
<g transform="translate(1190.9,1289.5) rotate(-90)"><text x="-1.29" y="0.00" font-size="48" >r</text><text x="18.08" y="0.00" font-size="48" >2</text><text x="56.89" y="0.00" font-size="48" >(</text><text x="73.71" y="0.00" font-size="48" >m</text><text x="117.08" y="0.00" font-size="48" >M</text><text x="161.82" y="-22.80" font-size="29" style="font-weight:normal" >-</text><text x="172.35" y="-22.80" font-size="29" style="font-weight:normal" >1</text><text x="185.55" y="0.00" font-size="48" >s</text><text x="204.67" y="-22.80" font-size="29" style="font-weight:normal" >-</text><text x="217.05" y="-22.80" font-size="29" style="font-weight:normal" >1</text><text x="230.55" y="0.00" font-size="48" >)</text></g>
<polygon points="1488.2,968.1 1492.1,977.4 1502.1,978.2 1494.5,984.7 1496.8,994.5 1488.2,989.3 1479.6,994.5 1481.9,984.7 1474.3,978.2 1484.3,977.4" fill="#ff0000"/>
<polygon points="1403.4,1190.1 1407.2,1199.1 1417.0,1200.0 1409.6,1206.4 1411.8,1216.0 1403.4,1210.9 1395.0,1216.0 1397.2,1206.4 1389.8,1200.0 1399.6,1199.1" fill="#ff0000"/>
<polygon points="1470.4,1269.9 1485.5500000000002,1295.5 1455.25,1295.5" fill="#ff8000"/>
<circle cx="1592.6" cy="1308.1" r="12.6" fill="#c0c0c0"/>
<rect x="1598.2" y="1426.7" width="22" height="22" fill="#008080"/>
<rect x="1752.8" y="1377.8" width="22" height="22" fill="#008080"/>
<rect x="2068.4" y="1335.9" width="22" height="22" fill="#008080"/>
<rect x="2247.8" y="1184.3" width="22" height="22" fill="#008080"/>
<polygon points="1944.8,1033.3 1960.1,1048.6 1944.8,1063.8999999999999 1929.5,1048.6" fill="#c86cff"/>
<polygon points="1914.2,1262.9 1929.5,1278.2 1914.2,1293.5 1898.9,1278.2" fill="#c86cff"/>
<polygon points="1867.2,1364.9 1882.5,1380.2 1867.2,1395.5 1851.9,1380.2" fill="#c86cff"/>
<polygon points="1820.0,847.9 1825.7,861.1 1840.0,862.4 1829.2,871.9 1832.3,885.9 1820.0,878.6 1807.7,885.9 1810.8,871.9 1800.0,862.4 1814.3,861.1" fill="#ff0000"/>
<text x="1875.97" y="884.00" font-size="39.5" textLength="108.82" lengthAdjust="spacing" >CoHA</text>
<circle cx="2041.5" cy="869.7" r="18.5" fill="#c0c0c0"/>
<text x="2098.62" y="883.00" font-size="39.5" textLength="265.20" lengthAdjust="spacing" >MWCNT/CoFe</text>
<text x="2364.24" y="898.70" font-size="18" >2</text>
<text x="2373.07" y="883.00" font-size="39.5" >O</text>
<text x="2408.45" y="898.70" font-size="18" >4</text>
<polygon points="1820.6,911.1999999999999 1843.8,934.4 1820.6,957.6 1797.3999999999999,934.4" fill="#c86cff"/>
<text x="1875.95" y="948.00" font-size="40" textLength="92.29" lengthAdjust="spacing" >CoFe</text>
<rect x="2031.4" y="917.7" width="32.3" height="33.7" fill="#008080"/>
<text x="2106.22" y="947.50" font-size="40" textLength="40.12" lengthAdjust="spacing" >Fe</text>
<text x="2146.22" y="963.60" font-size="22.5" style="font-weight:normal" >3</text>
<text x="2158.05" y="947.50" font-size="40" >O</text>
<text x="2189.56" y="963.60" font-size="22.5" style="font-weight:normal" >4</text>
<polygon points="2270,909 2292.0,948 2248.0,948" fill="#ff8000"/>
<text x="2328.02" y="948.00" font-size="40" textLength="98.98" lengthAdjust="spacing" >FeHA</text>
</svg></body></html>
